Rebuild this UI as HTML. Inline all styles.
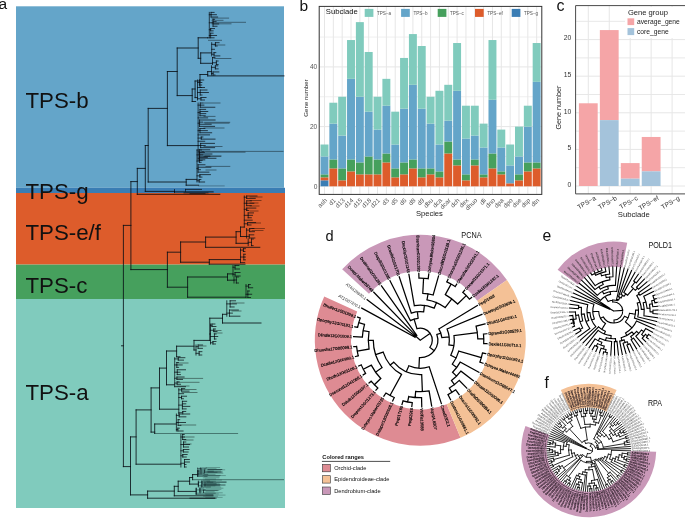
<!DOCTYPE html>
<html><head><meta charset="utf-8"><style>
html,body{margin:0;padding:0;background:#fff;}
svg{display:block;will-change:transform;}
</style></head><body>
<svg width="685" height="518" viewBox="0 0 685 518">
<text x="-1.5" y="9.4" font-size="15.5" font-family="'Liberation Sans', sans-serif" fill="#111">a</text><rect x="16" y="6.3" width="268" height="181.5" fill="#64A5C9"/><rect x="16" y="187.8" width="269" height="5.2" fill="#3A7DB4"/><rect x="16" y="193" width="269" height="71.6" fill="#DD5C2B"/><rect x="16" y="264.6" width="269" height="34.4" fill="#46A05D"/><rect x="16" y="299" width="269" height="209" fill="#80CBBD"/><text x="25.4" y="107.7" font-size="22.3" font-family="'Liberation Sans', sans-serif" fill="#111">TPS-b</text><text x="25.4" y="198.5" font-size="22.3" font-family="'Liberation Sans', sans-serif" fill="#111">TPS-g</text><text x="25.4" y="239.7" font-size="22.3" font-family="'Liberation Sans', sans-serif" fill="#111">TPS-e/f</text><text x="25.4" y="293" font-size="22.3" font-family="'Liberation Sans', sans-serif" fill="#111">TPS-c</text><text x="25.4" y="399.9" font-size="22.3" font-family="'Liberation Sans', sans-serif" fill="#111">TPS-a</text><text x="299.5" y="11" font-size="15.5" font-family="'Liberation Sans', sans-serif" fill="#111">b</text><line x1="319.2" x2="541.8" y1="156.45" y2="156.45" stroke="#EDEDED" stroke-width="0.9"/><line x1="319.2" x2="541.8" y1="96.75" y2="96.75" stroke="#EDEDED" stroke-width="0.9"/><line x1="319.2" x2="541.8" y1="37.05" y2="37.05" stroke="#EDEDED" stroke-width="0.9"/><line x1="319.2" x2="541.8" y1="186.30" y2="186.30" stroke="#E6E6E6" stroke-width="1"/><line x1="319.2" x2="541.8" y1="126.60" y2="126.60" stroke="#E6E6E6" stroke-width="1"/><line x1="319.2" x2="541.8" y1="66.90" y2="66.90" stroke="#E6E6E6" stroke-width="1"/><line x1="324.50" x2="324.50" y1="6.4" y2="194.4" stroke="#E6E6E6" stroke-width="1"/><line x1="333.34" x2="333.34" y1="6.4" y2="194.4" stroke="#E6E6E6" stroke-width="1"/><line x1="342.18" x2="342.18" y1="6.4" y2="194.4" stroke="#E6E6E6" stroke-width="1"/><line x1="351.02" x2="351.02" y1="6.4" y2="194.4" stroke="#E6E6E6" stroke-width="1"/><line x1="359.86" x2="359.86" y1="6.4" y2="194.4" stroke="#E6E6E6" stroke-width="1"/><line x1="368.70" x2="368.70" y1="6.4" y2="194.4" stroke="#E6E6E6" stroke-width="1"/><line x1="377.54" x2="377.54" y1="6.4" y2="194.4" stroke="#E6E6E6" stroke-width="1"/><line x1="386.38" x2="386.38" y1="6.4" y2="194.4" stroke="#E6E6E6" stroke-width="1"/><line x1="395.22" x2="395.22" y1="6.4" y2="194.4" stroke="#E6E6E6" stroke-width="1"/><line x1="404.06" x2="404.06" y1="6.4" y2="194.4" stroke="#E6E6E6" stroke-width="1"/><line x1="412.90" x2="412.90" y1="6.4" y2="194.4" stroke="#E6E6E6" stroke-width="1"/><line x1="421.74" x2="421.74" y1="6.4" y2="194.4" stroke="#E6E6E6" stroke-width="1"/><line x1="430.58" x2="430.58" y1="6.4" y2="194.4" stroke="#E6E6E6" stroke-width="1"/><line x1="439.42" x2="439.42" y1="6.4" y2="194.4" stroke="#E6E6E6" stroke-width="1"/><line x1="448.26" x2="448.26" y1="6.4" y2="194.4" stroke="#E6E6E6" stroke-width="1"/><line x1="457.10" x2="457.10" y1="6.4" y2="194.4" stroke="#E6E6E6" stroke-width="1"/><line x1="465.94" x2="465.94" y1="6.4" y2="194.4" stroke="#E6E6E6" stroke-width="1"/><line x1="474.78" x2="474.78" y1="6.4" y2="194.4" stroke="#E6E6E6" stroke-width="1"/><line x1="483.62" x2="483.62" y1="6.4" y2="194.4" stroke="#E6E6E6" stroke-width="1"/><line x1="492.46" x2="492.46" y1="6.4" y2="194.4" stroke="#E6E6E6" stroke-width="1"/><line x1="501.30" x2="501.30" y1="6.4" y2="194.4" stroke="#E6E6E6" stroke-width="1"/><line x1="510.14" x2="510.14" y1="6.4" y2="194.4" stroke="#E6E6E6" stroke-width="1"/><line x1="518.98" x2="518.98" y1="6.4" y2="194.4" stroke="#E6E6E6" stroke-width="1"/><line x1="527.82" x2="527.82" y1="6.4" y2="194.4" stroke="#E6E6E6" stroke-width="1"/><line x1="536.66" x2="536.66" y1="6.4" y2="194.4" stroke="#E6E6E6" stroke-width="1"/><rect x="320.52" y="180.33" width="7.95" height="5.97" fill="#3A7DB4"/><rect x="320.52" y="177.34" width="7.95" height="2.99" fill="#DD5C2B"/><rect x="320.52" y="174.36" width="7.95" height="2.98" fill="#46A05D"/><rect x="320.52" y="156.45" width="7.95" height="17.91" fill="#64A5C9"/><rect x="320.52" y="144.51" width="7.95" height="11.94" fill="#80CBBD"/><rect x="329.36" y="168.39" width="7.95" height="17.91" fill="#DD5C2B"/><rect x="329.36" y="159.44" width="7.95" height="8.96" fill="#46A05D"/><rect x="329.36" y="123.62" width="7.95" height="35.82" fill="#64A5C9"/><rect x="329.36" y="102.72" width="7.95" height="20.89" fill="#80CBBD"/><rect x="338.20" y="180.33" width="7.95" height="5.97" fill="#DD5C2B"/><rect x="338.20" y="168.39" width="7.95" height="11.94" fill="#46A05D"/><rect x="338.20" y="135.56" width="7.95" height="32.84" fill="#64A5C9"/><rect x="338.20" y="96.75" width="7.95" height="38.80" fill="#80CBBD"/><rect x="347.04" y="171.38" width="7.95" height="14.93" fill="#DD5C2B"/><rect x="347.04" y="159.44" width="7.95" height="11.94" fill="#46A05D"/><rect x="347.04" y="78.84" width="7.95" height="80.59" fill="#64A5C9"/><rect x="347.04" y="40.04" width="7.95" height="38.80" fill="#80CBBD"/><rect x="355.88" y="174.36" width="7.95" height="11.94" fill="#DD5C2B"/><rect x="355.88" y="162.42" width="7.95" height="11.94" fill="#46A05D"/><rect x="355.88" y="96.75" width="7.95" height="65.67" fill="#64A5C9"/><rect x="355.88" y="22.13" width="7.95" height="74.62" fill="#80CBBD"/><rect x="364.72" y="174.36" width="7.95" height="11.94" fill="#DD5C2B"/><rect x="364.72" y="156.45" width="7.95" height="17.91" fill="#46A05D"/><rect x="364.72" y="111.68" width="7.95" height="44.78" fill="#64A5C9"/><rect x="364.72" y="51.98" width="7.95" height="59.70" fill="#80CBBD"/><rect x="373.56" y="174.36" width="7.95" height="11.94" fill="#DD5C2B"/><rect x="373.56" y="159.44" width="7.95" height="14.93" fill="#46A05D"/><rect x="373.56" y="129.59" width="7.95" height="29.85" fill="#64A5C9"/><rect x="373.56" y="96.75" width="7.95" height="32.83" fill="#80CBBD"/><rect x="382.40" y="162.42" width="7.95" height="23.88" fill="#DD5C2B"/><rect x="382.40" y="153.47" width="7.95" height="8.96" fill="#46A05D"/><rect x="382.40" y="105.71" width="7.95" height="47.76" fill="#64A5C9"/><rect x="382.40" y="78.84" width="7.95" height="26.86" fill="#80CBBD"/><rect x="391.25" y="177.34" width="7.95" height="8.96" fill="#DD5C2B"/><rect x="391.25" y="168.39" width="7.95" height="8.95" fill="#46A05D"/><rect x="391.25" y="144.51" width="7.95" height="23.88" fill="#64A5C9"/><rect x="391.25" y="111.68" width="7.95" height="32.84" fill="#80CBBD"/><rect x="400.08" y="174.36" width="7.95" height="11.94" fill="#DD5C2B"/><rect x="400.08" y="162.42" width="7.95" height="11.94" fill="#46A05D"/><rect x="400.08" y="108.69" width="7.95" height="53.73" fill="#64A5C9"/><rect x="400.08" y="57.95" width="7.95" height="50.74" fill="#80CBBD"/><rect x="408.92" y="168.39" width="7.95" height="17.91" fill="#DD5C2B"/><rect x="408.92" y="159.44" width="7.95" height="8.96" fill="#46A05D"/><rect x="408.92" y="84.81" width="7.95" height="74.62" fill="#64A5C9"/><rect x="408.92" y="34.07" width="7.95" height="50.74" fill="#80CBBD"/><rect x="417.76" y="177.34" width="7.95" height="8.96" fill="#DD5C2B"/><rect x="417.76" y="168.39" width="7.95" height="8.95" fill="#46A05D"/><rect x="417.76" y="108.69" width="7.95" height="59.70" fill="#64A5C9"/><rect x="417.76" y="46.01" width="7.95" height="62.68" fill="#80CBBD"/><rect x="426.60" y="174.36" width="7.95" height="11.94" fill="#DD5C2B"/><rect x="426.60" y="168.39" width="7.95" height="5.97" fill="#46A05D"/><rect x="426.60" y="123.62" width="7.95" height="44.78" fill="#64A5C9"/><rect x="426.60" y="96.75" width="7.95" height="26.86" fill="#80CBBD"/><rect x="435.44" y="177.34" width="7.95" height="8.96" fill="#DD5C2B"/><rect x="435.44" y="171.38" width="7.95" height="5.97" fill="#46A05D"/><rect x="435.44" y="144.51" width="7.95" height="26.86" fill="#64A5C9"/><rect x="435.44" y="90.78" width="7.95" height="53.73" fill="#80CBBD"/><rect x="444.28" y="153.47" width="7.95" height="32.84" fill="#DD5C2B"/><rect x="444.28" y="141.53" width="7.95" height="11.94" fill="#46A05D"/><rect x="444.28" y="120.63" width="7.95" height="20.89" fill="#64A5C9"/><rect x="444.28" y="84.81" width="7.95" height="35.82" fill="#80CBBD"/><rect x="453.12" y="165.41" width="7.95" height="20.90" fill="#DD5C2B"/><rect x="453.12" y="159.44" width="7.95" height="5.97" fill="#46A05D"/><rect x="453.12" y="90.78" width="7.95" height="68.65" fill="#64A5C9"/><rect x="453.12" y="43.02" width="7.95" height="47.76" fill="#80CBBD"/><rect x="461.96" y="180.33" width="7.95" height="5.97" fill="#DD5C2B"/><rect x="461.96" y="174.36" width="7.95" height="5.97" fill="#46A05D"/><rect x="461.96" y="138.54" width="7.95" height="35.82" fill="#64A5C9"/><rect x="461.96" y="105.71" width="7.95" height="32.84" fill="#80CBBD"/><rect x="470.80" y="165.41" width="7.95" height="20.90" fill="#DD5C2B"/><rect x="470.80" y="159.44" width="7.95" height="5.97" fill="#46A05D"/><rect x="470.80" y="135.56" width="7.95" height="23.88" fill="#64A5C9"/><rect x="470.80" y="105.71" width="7.95" height="29.85" fill="#80CBBD"/><rect x="479.64" y="177.34" width="7.95" height="8.96" fill="#DD5C2B"/><rect x="479.64" y="174.36" width="7.95" height="2.98" fill="#46A05D"/><rect x="479.64" y="147.50" width="7.95" height="26.87" fill="#64A5C9"/><rect x="479.64" y="123.62" width="7.95" height="23.88" fill="#80CBBD"/><rect x="488.49" y="168.39" width="7.95" height="17.91" fill="#DD5C2B"/><rect x="488.49" y="153.47" width="7.95" height="14.93" fill="#46A05D"/><rect x="488.49" y="99.74" width="7.95" height="53.73" fill="#64A5C9"/><rect x="488.49" y="40.04" width="7.95" height="59.70" fill="#80CBBD"/><rect x="497.32" y="174.36" width="7.95" height="11.94" fill="#DD5C2B"/><rect x="497.32" y="171.38" width="7.95" height="2.99" fill="#46A05D"/><rect x="497.32" y="147.50" width="7.95" height="23.88" fill="#64A5C9"/><rect x="497.32" y="129.59" width="7.95" height="17.91" fill="#80CBBD"/><rect x="506.16" y="183.31" width="7.95" height="2.99" fill="#DD5C2B"/><rect x="506.16" y="165.41" width="7.95" height="17.91" fill="#64A5C9"/><rect x="506.16" y="144.51" width="7.95" height="20.89" fill="#80CBBD"/><rect x="515.00" y="180.33" width="7.95" height="5.97" fill="#DD5C2B"/><rect x="515.00" y="174.36" width="7.95" height="5.97" fill="#46A05D"/><rect x="515.00" y="156.45" width="7.95" height="17.91" fill="#64A5C9"/><rect x="515.00" y="126.60" width="7.95" height="29.85" fill="#80CBBD"/><rect x="523.84" y="171.38" width="7.95" height="14.93" fill="#DD5C2B"/><rect x="523.84" y="162.42" width="7.95" height="8.95" fill="#46A05D"/><rect x="523.84" y="126.60" width="7.95" height="35.82" fill="#64A5C9"/><rect x="523.84" y="105.71" width="7.95" height="20.90" fill="#80CBBD"/><rect x="532.68" y="168.39" width="7.95" height="17.91" fill="#DD5C2B"/><rect x="532.68" y="162.42" width="7.95" height="5.97" fill="#46A05D"/><rect x="532.68" y="81.83" width="7.95" height="80.59" fill="#64A5C9"/><rect x="532.68" y="43.02" width="7.95" height="38.81" fill="#80CBBD"/><rect x="319.2" y="6.4" width="222.6" height="188.0" fill="none" stroke="#333" stroke-width="1"/><text x="325.8" y="14.3" font-size="7.7" font-family="'Liberation Sans', sans-serif" fill="#111">Subclade</text><rect x="364.7" y="8.9" width="8.7" height="8" fill="#80CBBD"/><text x="377.0" y="14.6" font-size="4.6" font-family="'Liberation Sans', sans-serif" fill="#555">TPS−a</text><rect x="401.1" y="8.9" width="8.7" height="8" fill="#64A5C9"/><text x="413.40000000000003" y="14.6" font-size="4.6" font-family="'Liberation Sans', sans-serif" fill="#555">TPS−b</text><rect x="437.7" y="8.9" width="8.7" height="8" fill="#46A05D"/><text x="450.0" y="14.6" font-size="4.6" font-family="'Liberation Sans', sans-serif" fill="#555">TPS−c</text><rect x="475" y="8.9" width="8.7" height="8" fill="#DD5C2B"/><text x="487.3" y="14.6" font-size="4.6" font-family="'Liberation Sans', sans-serif" fill="#555">TPS−ef</text><rect x="511.7" y="8.9" width="8.7" height="8" fill="#3A7DB4"/><text x="524.0" y="14.6" font-size="4.6" font-family="'Liberation Sans', sans-serif" fill="#555">TPS−g</text><text x="317.3" y="188.60" font-size="6.6" font-family="'Liberation Sans', sans-serif" fill="#555" text-anchor="end">0</text><text x="317.3" y="128.90" font-size="6.6" font-family="'Liberation Sans', sans-serif" fill="#555" text-anchor="end">20</text><text x="317.3" y="69.20" font-size="6.6" font-family="'Liberation Sans', sans-serif" fill="#555" text-anchor="end">40</text><text transform="translate(307.6,98) rotate(-90)" font-size="6.1" font-family="'Liberation Sans', sans-serif" fill="#222" text-anchor="middle">Gene number</text><text transform="translate(324.10,197.4) rotate(-45)" font-size="6.3" font-family="'Liberation Sans', sans-serif" fill="#555" text-anchor="end" dominant-baseline="hanging">ash</text><text transform="translate(332.94,197.4) rotate(-45)" font-size="6.3" font-family="'Liberation Sans', sans-serif" fill="#555" text-anchor="end" dominant-baseline="hanging">d1</text><text transform="translate(341.78,197.4) rotate(-45)" font-size="6.3" font-family="'Liberation Sans', sans-serif" fill="#555" text-anchor="end" dominant-baseline="hanging">d13</text><text transform="translate(350.62,197.4) rotate(-45)" font-size="6.3" font-family="'Liberation Sans', sans-serif" fill="#555" text-anchor="end" dominant-baseline="hanging">d14</text><text transform="translate(359.46,197.4) rotate(-45)" font-size="6.3" font-family="'Liberation Sans', sans-serif" fill="#555" text-anchor="end" dominant-baseline="hanging">d15</text><text transform="translate(368.30,197.4) rotate(-45)" font-size="6.3" font-family="'Liberation Sans', sans-serif" fill="#555" text-anchor="end" dominant-baseline="hanging">d18</text><text transform="translate(377.14,197.4) rotate(-45)" font-size="6.3" font-family="'Liberation Sans', sans-serif" fill="#555" text-anchor="end" dominant-baseline="hanging">d21</text><text transform="translate(385.98,197.4) rotate(-45)" font-size="6.3" font-family="'Liberation Sans', sans-serif" fill="#555" text-anchor="end" dominant-baseline="hanging">d3</text><text transform="translate(394.82,197.4) rotate(-45)" font-size="6.3" font-family="'Liberation Sans', sans-serif" fill="#555" text-anchor="end" dominant-baseline="hanging">d5</text><text transform="translate(403.66,197.4) rotate(-45)" font-size="6.3" font-family="'Liberation Sans', sans-serif" fill="#555" text-anchor="end" dominant-baseline="hanging">d6</text><text transform="translate(412.50,197.4) rotate(-45)" font-size="6.3" font-family="'Liberation Sans', sans-serif" fill="#555" text-anchor="end" dominant-baseline="hanging">d8</text><text transform="translate(421.34,197.4) rotate(-45)" font-size="6.3" font-family="'Liberation Sans', sans-serif" fill="#555" text-anchor="end" dominant-baseline="hanging">d9</text><text transform="translate(430.18,197.4) rotate(-45)" font-size="6.3" font-family="'Liberation Sans', sans-serif" fill="#555" text-anchor="end" dominant-baseline="hanging">dbu</text><text transform="translate(439.02,197.4) rotate(-45)" font-size="6.3" font-family="'Liberation Sans', sans-serif" fill="#555" text-anchor="end" dominant-baseline="hanging">dca</text><text transform="translate(447.86,197.4) rotate(-45)" font-size="6.3" font-family="'Liberation Sans', sans-serif" fill="#555" text-anchor="end" dominant-baseline="hanging">dcar</text><text transform="translate(456.70,197.4) rotate(-45)" font-size="6.3" font-family="'Liberation Sans', sans-serif" fill="#555" text-anchor="end" dominant-baseline="hanging">dch</text><text transform="translate(465.54,197.4) rotate(-45)" font-size="6.3" font-family="'Liberation Sans', sans-serif" fill="#555" text-anchor="end" dominant-baseline="hanging">dex</text><text transform="translate(474.38,197.4) rotate(-45)" font-size="6.3" font-family="'Liberation Sans', sans-serif" fill="#555" text-anchor="end" dominant-baseline="hanging">dhuo</text><text transform="translate(483.22,197.4) rotate(-45)" font-size="6.3" font-family="'Liberation Sans', sans-serif" fill="#555" text-anchor="end" dominant-baseline="hanging">dli</text><text transform="translate(492.06,197.4) rotate(-45)" font-size="6.3" font-family="'Liberation Sans', sans-serif" fill="#555" text-anchor="end" dominant-baseline="hanging">dno</text><text transform="translate(500.90,197.4) rotate(-45)" font-size="6.3" font-family="'Liberation Sans', sans-serif" fill="#555" text-anchor="end" dominant-baseline="hanging">dpa</text><text transform="translate(509.74,197.4) rotate(-45)" font-size="6.3" font-family="'Liberation Sans', sans-serif" fill="#555" text-anchor="end" dominant-baseline="hanging">dpo</text><text transform="translate(518.58,197.4) rotate(-45)" font-size="6.3" font-family="'Liberation Sans', sans-serif" fill="#555" text-anchor="end" dominant-baseline="hanging">dse</text><text transform="translate(527.42,197.4) rotate(-45)" font-size="6.3" font-family="'Liberation Sans', sans-serif" fill="#555" text-anchor="end" dominant-baseline="hanging">dsp</text><text transform="translate(536.26,197.4) rotate(-45)" font-size="6.3" font-family="'Liberation Sans', sans-serif" fill="#555" text-anchor="end" dominant-baseline="hanging">dtn</text><text x="429.4" y="216.4" font-size="7.6" font-family="'Liberation Sans', sans-serif" fill="#222" text-anchor="middle">Species</text><text x="556.5" y="10.9" font-size="16" font-family="'Liberation Sans', sans-serif" fill="#111">c</text><line x1="575.6" x2="690" y1="167.70" y2="167.70" stroke="#E8E8E8" stroke-width="1"/><line x1="575.6" x2="690" y1="131.10" y2="131.10" stroke="#E8E8E8" stroke-width="1"/><line x1="575.6" x2="690" y1="94.50" y2="94.50" stroke="#E8E8E8" stroke-width="1"/><line x1="575.6" x2="690" y1="57.90" y2="57.90" stroke="#E8E8E8" stroke-width="1"/><line x1="575.6" x2="690" y1="21.30" y2="21.30" stroke="#E8E8E8" stroke-width="1"/><line x1="575.6" x2="690" y1="186.00" y2="186.00" stroke="#E6E6E6" stroke-width="1"/><line x1="575.6" x2="690" y1="149.40" y2="149.40" stroke="#E6E6E6" stroke-width="1"/><line x1="575.6" x2="690" y1="112.80" y2="112.80" stroke="#E6E6E6" stroke-width="1"/><line x1="575.6" x2="690" y1="76.20" y2="76.20" stroke="#E6E6E6" stroke-width="1"/><line x1="575.6" x2="690" y1="39.60" y2="39.60" stroke="#E6E6E6" stroke-width="1"/><line x1="588.30" x2="588.30" y1="5.6" y2="193.9" stroke="#E6E6E6" stroke-width="1"/><line x1="609.25" x2="609.25" y1="5.6" y2="193.9" stroke="#E6E6E6" stroke-width="1"/><line x1="630.20" x2="630.20" y1="5.6" y2="193.9" stroke="#E6E6E6" stroke-width="1"/><line x1="651.15" x2="651.15" y1="5.6" y2="193.9" stroke="#E6E6E6" stroke-width="1"/><line x1="672.10" x2="672.10" y1="5.6" y2="193.9" stroke="#E6E6E6" stroke-width="1"/><rect x="578.90" y="103.28" width="18.8" height="82.72" fill="#F5A5A7"/><rect x="599.85" y="30.08" width="18.8" height="90.04" fill="#F5A5A7"/><rect x="599.85" y="120.12" width="18.8" height="65.88" fill="#A4C3DB"/><rect x="620.80" y="163.09" width="18.8" height="15.59" fill="#F5A5A7"/><rect x="620.80" y="178.68" width="18.8" height="7.32" fill="#A4C3DB"/><rect x="641.75" y="136.96" width="18.8" height="34.40" fill="#F5A5A7"/><rect x="641.75" y="171.36" width="18.8" height="14.64" fill="#A4C3DB"/><path d="M690,5.6 H575.6 V193.9 H690" fill="none" stroke="#4a4a4a" stroke-width="1"/><rect x="625" y="7" width="60" height="31" fill="#fff"/><text x="627.9" y="14.8" font-size="7.6" font-family="'Liberation Sans', sans-serif" fill="#222">Gene group</text><rect x="627.5" y="18.3" width="6.7" height="6.8" fill="#F5A5A7"/><rect x="627.5" y="28.1" width="6.7" height="7" fill="#A4C3DB"/><text x="637" y="24" font-size="6.7" font-family="'Liberation Sans', sans-serif" fill="#222">average_gene</text><text x="637" y="33.8" font-size="6.7" font-family="'Liberation Sans', sans-serif" fill="#222">core_gene</text><text x="571.3" y="186.80" font-size="6.8" font-family="'Liberation Sans', sans-serif" fill="#333" text-anchor="end">0</text><text x="571.3" y="150.20" font-size="6.8" font-family="'Liberation Sans', sans-serif" fill="#333" text-anchor="end">5</text><text x="571.3" y="113.60" font-size="6.8" font-family="'Liberation Sans', sans-serif" fill="#333" text-anchor="end">10</text><text x="571.3" y="77.00" font-size="6.8" font-family="'Liberation Sans', sans-serif" fill="#333" text-anchor="end">15</text><text x="571.3" y="40.40" font-size="6.8" font-family="'Liberation Sans', sans-serif" fill="#333" text-anchor="end">20</text><text transform="translate(561.3,107.5) rotate(-90)" font-size="7.2" font-family="'Liberation Sans', sans-serif" fill="#222" text-anchor="middle">Gene number</text><text transform="translate(594.10,195.2) rotate(-30)" font-size="6.6" font-family="'Liberation Sans', sans-serif" fill="#333" text-anchor="end" dominant-baseline="hanging">TPS−a</text><text transform="translate(615.05,195.2) rotate(-30)" font-size="6.6" font-family="'Liberation Sans', sans-serif" fill="#333" text-anchor="end" dominant-baseline="hanging">TPS−b</text><text transform="translate(636.00,195.2) rotate(-30)" font-size="6.6" font-family="'Liberation Sans', sans-serif" fill="#333" text-anchor="end" dominant-baseline="hanging">TPS−c</text><text transform="translate(656.95,195.2) rotate(-30)" font-size="6.6" font-family="'Liberation Sans', sans-serif" fill="#333" text-anchor="end" dominant-baseline="hanging">TPS−ef</text><text transform="translate(677.90,195.2) rotate(-30)" font-size="6.6" font-family="'Liberation Sans', sans-serif" fill="#333" text-anchor="end" dominant-baseline="hanging">TPS−g</text><text x="633.8" y="217.2" font-size="7.7" font-family="'Liberation Sans', sans-serif" fill="#222" text-anchor="middle">Subclade</text>
<path d="M460.50,437.74A105.5,105.5 0 0 1 324.22,296.62L357.19,311.57A69.3,69.3 0 0 0 446.71,404.27Z" fill="#DE8B93"/><path d="M342.15,269.33A105.5,105.5 0 0 1 506.93,279.99L477.21,300.65A69.3,69.3 0 0 0 368.96,293.65Z" fill="#C998B8"/><path d="M506.93,279.99A105.5,105.5 0 0 1 460.50,437.74L446.71,404.27A69.3,69.3 0 0 0 477.21,300.65Z" fill="#F4C196"/><path d="M415.04,337.31L361.73,308.08M415.53,336.56L367.17,299.71M416.12,335.89L373.80,292.24M416.81,335.32L381.47,285.85M415.04,337.31A6.00,6.00 0 0 1 416.81,335.32M420.30,340.20L415.81,336.22M410.32,320.59L390.00,280.67M411.30,313.16L399.21,276.82M414.33,305.71L408.90,274.38M418.94,278.21L418.83,273.42M428.19,278.70L428.80,273.94M418.94,278.21A62.00,62.00 0 0 1 428.19,278.70M422.78,293.27L423.58,278.29M433.16,294.99L438.58,275.95M422.78,293.27A47.00,47.00 0 0 1 433.16,294.99M427.04,299.76L428.02,293.84M446.80,281.94L447.96,279.39M455.18,286.54L456.71,284.19M446.80,281.94A64.00,64.00 0 0 1 455.18,286.54M445.31,294.61L451.08,284.09M462.79,292.34L464.65,290.25M469.45,299.21L471.60,297.42M462.79,292.34A64.00,64.00 0 0 1 469.45,299.21M457.63,304.00L466.25,295.65M445.31,294.61A52.00,52.00 0 0 1 457.63,304.00M445.15,307.59L451.82,298.84M427.04,299.76A41.00,41.00 0 0 1 445.15,307.59M434.19,308.08L436.57,302.57M414.33,305.71A35.00,35.00 0 0 1 434.19,308.08M423.66,311.90L424.43,305.44M411.30,313.16A28.50,28.50 0 0 1 423.66,311.90M418.07,318.31L417.41,311.85M410.32,320.59A22.00,22.00 0 0 1 418.07,318.31M416.91,328.69L414.09,319.09M438.85,328.94L477.40,305.54M447.06,329.02L481.93,314.44M476.06,326.18L485.08,323.91M483.50,334.07L486.79,333.75M483.71,343.55L487.01,343.73M483.50,334.07A63.50,63.50 0 0 1 483.71,343.55M477.79,338.94L483.78,338.81M476.06,326.18A57.50,57.50 0 0 1 477.79,338.94M453.99,335.65L477.28,332.51M482.50,352.97L485.74,353.63M479.91,362.10L483.00,363.23M482.50,352.97A63.50,63.50 0 0 1 479.91,362.10M458.77,351.15L481.37,357.58M460.19,362.08L478.87,372.32M460.86,371.12L473.43,380.69M459.28,380.41L466.80,388.16M455.76,389.83L459.13,394.55M447.97,394.57L450.60,399.73M455.76,389.83A61.00,61.00 0 0 1 447.97,394.57M449.36,388.07L451.95,392.35M459.28,380.41A56.00,56.00 0 0 1 449.36,388.07M451.48,380.56L454.53,384.52M460.86,371.12A51.00,51.00 0 0 1 451.48,380.56M452.58,372.27L456.48,376.15M460.19,362.08A45.50,45.50 0 0 1 452.58,372.27M452.34,364.15L456.74,367.44M458.77,351.15A40.00,40.00 0 0 1 452.34,364.15M450.77,355.28L456.15,357.94M453.99,335.65A34.00,34.00 0 0 1 450.77,355.28M448.92,344.90L453.85,345.71M447.06,329.02A29.00,29.00 0 0 1 448.92,344.90M441.85,337.68L449.10,336.83M438.85,328.94A21.70,21.70 0 0 1 441.85,337.68M436.85,334.51L440.82,333.15M429.14,366.77L441.39,403.58M429.09,390.94L431.70,406.02M421.56,397.69L421.77,406.98M412.28,402.69L411.80,406.46M403.06,400.79L402.02,404.45M412.28,402.69A63.00,63.00 0 0 1 403.06,400.79M408.74,396.53L407.63,401.91M421.56,397.69A57.50,57.50 0 0 1 408.74,396.53M415.66,391.49L415.12,397.47M429.09,390.94A51.50,51.50 0 0 1 415.66,391.49M421.70,374.67L422.39,391.66M394.22,397.55L392.64,401.01M385.96,393.02L383.89,396.21M394.22,397.55A63.00,63.00 0 0 1 385.96,393.02M401.55,374.39L390.00,395.44M360.23,318.13L357.60,317.17M357.61,327.33L354.86,326.77M357.61,327.33A64.00,64.00 0 0 1 360.23,318.13M364.52,324.32L358.74,322.68M362.38,337.14L353.59,336.67M362.38,337.14A58.00,58.00 0 0 1 364.52,324.32M369.01,331.66L363.09,330.67M356.60,346.38L353.81,346.65M358.23,355.81L355.52,356.49M358.23,355.81A64.00,64.00 0 0 1 356.60,346.38M369.06,349.08L357.24,351.12M369.06,349.08A52.00,52.00 0 0 1 369.01,331.66M373.30,340.35L368.30,340.37M361.25,364.88L358.67,365.96M365.59,373.41L363.20,374.86M365.59,373.41A64.00,64.00 0 0 1 361.25,364.88M371.28,365.15L363.26,369.23M371.15,381.19L369.00,382.98M377.81,388.06L375.95,390.15M377.81,388.06A64.00,64.00 0 0 1 371.15,381.19M380.81,378.49L374.35,384.75M380.81,378.49A55.00,55.00 0 0 1 371.28,365.15M382.06,367.52L375.55,372.17M382.06,367.52A47.00,47.00 0 0 1 373.30,340.35M383.18,352.16L375.57,354.62M401.55,374.39A39.00,39.00 0 0 1 383.18,352.16M393.70,362.17L390.23,365.04M421.70,374.67A34.50,34.50 0 0 1 393.70,362.17M408.89,365.77L406.24,371.70M429.14,366.77A28.00,28.00 0 0 1 408.89,365.77M419.44,357.68L418.92,368.17M436.85,334.51A17.50,17.50 0 0 1 419.44,357.68M429.89,347.41L434.29,350.71M416.91,328.69A12.00,12.00 0 0 1 429.89,347.41M420.30,340.20L430.16,333.36" fill="none" stroke="#000" stroke-width="1.25" stroke-linecap="square"/><text transform="translate(441.86,405.01) rotate(71.60)" dominant-baseline="central" font-size="4.0" font-family="'Liberation Sans', sans-serif" fill="#000" stroke="#000" stroke-width="0.15">Cmod2302.1</text><text transform="translate(431.96,407.50) rotate(80.17)" dominant-baseline="central" font-size="4.0" font-family="'Liberation Sans', sans-serif" fill="#000" stroke="#000" stroke-width="0.15">Vopt24.8307</text><text transform="translate(421.80,408.48) rotate(88.74)" dominant-baseline="central" font-size="4.0" font-family="'Liberation Sans', sans-serif" fill="#000" stroke="#000" stroke-width="0.15">Wolfia13688</text><text transform="translate(411.60,407.94) rotate(-82.69)" text-anchor="end" dominant-baseline="central" font-size="4.0" font-family="'Liberation Sans', sans-serif" fill="#000" stroke="#000" stroke-width="0.15">Peq02918</text><text transform="translate(401.60,405.89) rotate(-74.11)" text-anchor="end" dominant-baseline="central" font-size="4.0" font-family="'Liberation Sans', sans-serif" fill="#000" stroke="#000" stroke-width="0.15">Peq017165</text><text transform="translate(392.02,402.37) rotate(-65.54)" text-anchor="end" dominant-baseline="central" font-size="4.0" font-family="'Liberation Sans', sans-serif" fill="#000" stroke="#000" stroke-width="0.15">Dlstapel12G00568.1</text><text transform="translate(383.07,397.46) rotate(-56.97)" text-anchor="end" dominant-baseline="central" font-size="4.0" font-family="'Liberation Sans', sans-serif" fill="#000" stroke="#000" stroke-width="0.15">Dchryso.Maker03725</text><text transform="translate(374.95,391.27) rotate(-48.40)" text-anchor="end" dominant-baseline="central" font-size="4.0" font-family="'Liberation Sans', sans-serif" fill="#000" stroke="#000" stroke-width="0.15">Drepen12G01273.1</text><text transform="translate(367.85,383.95) rotate(-39.83)" text-anchor="end" dominant-baseline="central" font-size="4.0" font-family="'Liberation Sans', sans-serif" fill="#000" stroke="#000" stroke-width="0.15">Dstuls12G00107.1</text><text transform="translate(361.91,375.64) rotate(-31.26)" text-anchor="end" dominant-baseline="central" font-size="4.0" font-family="'Liberation Sans', sans-serif" fill="#000" stroke="#000" stroke-width="0.15">Dsecund12G41086.1</text><text transform="translate(357.28,366.54) rotate(-22.69)" text-anchor="end" dominant-baseline="central" font-size="4.0" font-family="'Liberation Sans', sans-serif" fill="#000" stroke="#000" stroke-width="0.15">Dhuifn13G01106.1</text><text transform="translate(354.06,356.86) rotate(-14.11)" text-anchor="end" dominant-baseline="central" font-size="4.0" font-family="'Liberation Sans', sans-serif" fill="#000" stroke="#000" stroke-width="0.15">Dcatile12G00990.1</text><text transform="translate(352.32,346.80) rotate(-5.54)" text-anchor="end" dominant-baseline="central" font-size="4.0" font-family="'Liberation Sans', sans-serif" fill="#000" stroke="#000" stroke-width="0.15">Dhuosha17G00098.1</text><text transform="translate(352.10,336.59) rotate(3.03)" text-anchor="end" dominant-baseline="central" font-size="4.0" font-family="'Liberation Sans', sans-serif" fill="#000" stroke="#000" stroke-width="0.15">Dlindle12G01009.1</text><text transform="translate(353.40,326.47) rotate(11.60)" text-anchor="end" dominant-baseline="central" font-size="4.0" font-family="'Liberation Sans', sans-serif" fill="#000" stroke="#000" stroke-width="0.15">Dporphy12G01181.1</text><text transform="translate(356.19,316.65) rotate(20.17)" text-anchor="end" dominant-baseline="central" font-size="4.0" font-family="'Liberation Sans', sans-serif" fill="#000" stroke="#000" stroke-width="0.15">Dhuifer12G01998.1</text><text transform="translate(372.76,291.16) rotate(45.89)" text-anchor="end" dominant-baseline="central" font-size="4.0" font-family="'Liberation Sans', sans-serif" fill="#000" stroke="#000" stroke-width="0.15">Dcrepi.Maker03748</text><text transform="translate(380.60,284.63) rotate(54.46)" text-anchor="end" dominant-baseline="central" font-size="4.0" font-family="'Liberation Sans', sans-serif" fill="#000" stroke="#000" stroke-width="0.15">Dcatena02G01285</text><text transform="translate(389.32,279.33) rotate(63.03)" text-anchor="end" dominant-baseline="central" font-size="4.0" font-family="'Liberation Sans', sans-serif" fill="#000" stroke="#000" stroke-width="0.15">Dcapill02G01385</text><text transform="translate(398.74,275.39) rotate(71.60)" text-anchor="end" dominant-baseline="central" font-size="4.0" font-family="'Liberation Sans', sans-serif" fill="#000" stroke="#000" stroke-width="0.15">Dcaulis02G01706</text><text transform="translate(408.64,272.90) rotate(80.17)" text-anchor="end" dominant-baseline="central" font-size="4.0" font-family="'Liberation Sans', sans-serif" fill="#000" stroke="#000" stroke-width="0.15">Dnobile05G01245</text><text transform="translate(418.80,271.92) rotate(88.74)" text-anchor="end" dominant-baseline="central" font-size="4.0" font-family="'Liberation Sans', sans-serif" fill="#000" stroke="#000" stroke-width="0.15">Dsenicum02G01282</text><text transform="translate(429.00,272.46) rotate(277.31)" dominant-baseline="central" font-size="4.0" font-family="'Liberation Sans', sans-serif" fill="#000" stroke="#000" stroke-width="0.15">Dchryso.Maker98854</text><text transform="translate(439.00,274.51) rotate(285.89)" dominant-baseline="central" font-size="4.0" font-family="'Liberation Sans', sans-serif" fill="#000" stroke="#000" stroke-width="0.15">Dmonilif15G01128.1</text><text transform="translate(448.58,278.03) rotate(294.46)" dominant-baseline="central" font-size="4.0" font-family="'Liberation Sans', sans-serif" fill="#000" stroke="#000" stroke-width="0.15">Dhuosha16G01295.1</text><text transform="translate(457.53,282.94) rotate(303.03)" dominant-baseline="central" font-size="4.0" font-family="'Liberation Sans', sans-serif" fill="#000" stroke="#000" stroke-width="0.15">Dhuosha16G02241.1</text><text transform="translate(465.65,289.13) rotate(311.60)" dominant-baseline="central" font-size="4.0" font-family="'Liberation Sans', sans-serif" fill="#000" stroke="#000" stroke-width="0.15">Dnovel15G01571.1</text><text transform="translate(472.75,296.45) rotate(320.17)" dominant-baseline="central" font-size="4.0" font-family="'Liberation Sans', sans-serif" fill="#000" stroke="#000" stroke-width="0.15">Dzelia15G01287.1</text><text transform="translate(478.69,304.76) rotate(328.74)" dominant-baseline="central" font-size="4.0" font-family="'Liberation Sans', sans-serif" fill="#000" stroke="#000" stroke-width="0.15">Peq01498</text><text transform="translate(483.32,313.86) rotate(337.31)" dominant-baseline="central" font-size="4.0" font-family="'Liberation Sans', sans-serif" fill="#000" stroke="#000" stroke-width="0.15">Dcarinyi1G00606.1</text><text transform="translate(486.54,323.54) rotate(345.89)" dominant-baseline="central" font-size="4.0" font-family="'Liberation Sans', sans-serif" fill="#000" stroke="#000" stroke-width="0.15">Dfruit11G00260.1</text><text transform="translate(488.28,333.60) rotate(354.46)" dominant-baseline="central" font-size="4.0" font-family="'Liberation Sans', sans-serif" fill="#000" stroke="#000" stroke-width="0.15">Dgrandi1G00529.1</text><text transform="translate(488.50,343.81) rotate(3.03)" dominant-baseline="central" font-size="4.0" font-family="'Liberation Sans', sans-serif" fill="#000" stroke="#000" stroke-width="0.15">Dexile11G00710.1</text><text transform="translate(487.20,353.93) rotate(11.60)" dominant-baseline="central" font-size="4.0" font-family="'Liberation Sans', sans-serif" fill="#000" stroke="#000" stroke-width="0.15">Dporphy11G00874.1</text><text transform="translate(484.41,363.75) rotate(20.17)" dominant-baseline="central" font-size="4.0" font-family="'Liberation Sans', sans-serif" fill="#000" stroke="#000" stroke-width="0.15">Dchryso.Maker44482</text><text transform="translate(480.18,373.04) rotate(28.74)" dominant-baseline="central" font-size="4.0" font-family="'Liberation Sans', sans-serif" fill="#000" stroke="#000" stroke-width="0.15">Dsenicum11G00547.1</text><text transform="translate(474.62,381.60) rotate(37.31)" dominant-baseline="central" font-size="4.0" font-family="'Liberation Sans', sans-serif" fill="#000" stroke="#000" stroke-width="0.15">Dbicam11G02096.1</text><text transform="translate(467.84,389.24) rotate(45.89)" dominant-baseline="central" font-size="4.0" font-family="'Liberation Sans', sans-serif" fill="#000" stroke="#000" stroke-width="0.15">Dhalfa06G00854.1</text><text transform="translate(460.00,395.77) rotate(54.46)" dominant-baseline="central" font-size="4.0" font-family="'Liberation Sans', sans-serif" fill="#000" stroke="#000" stroke-width="0.15">Dcaulis11G00052.1</text><text transform="translate(451.28,401.07) rotate(63.03)" dominant-baseline="central" font-size="4.0" font-family="'Liberation Sans', sans-serif" fill="#000" stroke="#000" stroke-width="0.15">Dcatena11G00661.1</text><text transform="translate(360.42,307.36) rotate(28.74)" text-anchor="end" dominant-baseline="central" font-size="4.0" font-family="'Liberation Sans', sans-serif" fill="#444" stroke="#444" stroke-width="0.05">AT1G07370.1</text><text transform="translate(365.98,298.80) rotate(37.31)" text-anchor="end" dominant-baseline="central" font-size="4.0" font-family="'Liberation Sans', sans-serif" fill="#444" stroke="#444" stroke-width="0.05">AT4G29830.1</text><text x="325.6" y="241.1" font-size="14.6" font-family="'Liberation Sans', sans-serif" fill="#111">d</text><text x="461.3" y="237.6" font-size="8.6" textLength="20.3" lengthAdjust="spacingAndGlyphs" font-family="'Liberation Sans', sans-serif" fill="#111">PCNA</text><text x="322.3" y="458.9" font-size="5.7" font-weight="bold" font-family="'Liberation Sans', sans-serif" fill="#111">Colored ranges</text><line x1="321.9" x2="390.2" y1="461.4" y2="461.4" stroke="#222" stroke-width="0.8"/><rect x="322.5" y="464.4" width="7.8" height="7.4" fill="#DE8B93" stroke="#333" stroke-width="0.6"/><text x="334.2" y="470.1" font-size="5.7" font-family="'Liberation Sans', sans-serif" fill="#111">Orchid-clade</text><rect x="322.5" y="475.7" width="7.8" height="7.4" fill="#F4C196" stroke="#333" stroke-width="0.6"/><text x="334.2" y="481.4" font-size="5.7" font-family="'Liberation Sans', sans-serif" fill="#111">Epidendroideae-clade</text><rect x="322.5" y="487.0" width="7.8" height="7.4" fill="#C998B8" stroke="#333" stroke-width="0.6"/><text x="334.2" y="492.7" font-size="5.7" font-family="'Liberation Sans', sans-serif" fill="#111">Dendrobium-clade</text><path d="M557.61,269.80A69.6,69.6 0 0 1 627.22,242.73L622.30,267.54A44.3,44.3 0 0 0 578.00,284.77Z" fill="#C998B8"/><path d="M609.58,309.18L573.17,293.12M609.76,308.83L574.88,289.66M609.96,308.50L576.89,286.36M609.58,309.18A4.50,4.50 0 0 1 609.96,308.50M613.70,311.00L609.76,308.83M600.53,300.41L579.18,283.24M597.32,295.29L581.73,280.34M594.93,289.56L584.52,277.67M595.15,285.66L587.54,275.25M591.94,275.07L590.75,273.11M595.16,273.32L594.14,271.25M598.51,271.84L597.68,269.70M601.98,270.67L601.34,268.46M598.51,271.84A42.00,42.00 0 0 1 601.98,270.67M600.23,271.22L600.23,271.22M595.16,273.32A42.00,42.00 0 0 1 600.23,271.22M597.66,272.18L597.66,272.18M591.94,275.07A42.00,42.00 0 0 1 597.66,272.18M595.60,275.22L594.75,273.52M605.91,271.66L605.10,267.54M595.60,275.22A40.10,40.10 0 0 1 605.91,271.66M601.58,275.83L600.64,273.09M609.68,274.02L608.92,266.96M601.58,275.83A37.20,37.20 0 0 1 609.68,274.02M606.21,277.53L605.58,274.70M612.98,276.71L612.77,266.71M606.21,277.53A34.30,34.30 0 0 1 612.98,276.71M609.93,279.83L609.58,276.95M595.15,285.66A31.40,31.40 0 0 1 609.93,279.83M603.23,284.49L602.17,281.80M594.93,289.56A28.50,28.50 0 0 1 603.23,284.49M600.37,289.14L598.86,286.67M615.40,285.46L616.64,266.80M600.37,289.14A25.60,25.60 0 0 1 615.40,285.46M608.29,288.95L607.60,286.14M597.32,295.29A22.70,22.70 0 0 1 608.29,288.95M603.80,293.85L602.35,291.34M616.73,291.43L620.48,267.22M603.80,293.85A19.80,19.80 0 0 1 616.73,291.43M610.59,294.39L610.06,291.54M600.53,300.41A16.90,16.90 0 0 1 610.59,294.39M606.51,298.99L605.02,296.50M608.05,301.56L606.51,298.99M616.56,299.35L624.27,267.98M618.53,296.80L627.98,269.06M620.96,294.53L631.58,270.47M623.82,292.60L635.04,272.18M633.73,281.08L638.34,274.19M636.26,282.94L641.46,276.48M633.73,281.08A36.00,36.00 0 0 1 636.26,282.94M631.46,286.82L635.01,281.99M636.54,287.18L644.36,279.03M638.53,289.26L647.03,281.82M636.54,287.18A33.00,33.00 0 0 1 638.53,289.26M635.39,290.27L637.56,288.20M631.46,286.82A30.00,30.00 0 0 1 635.39,290.27M627.56,295.22L633.50,288.46M623.82,292.60A21.00,21.00 0 0 1 627.56,295.22M624.04,296.26L625.76,293.81M620.96,294.53A18.00,18.00 0 0 1 624.04,296.26M621.07,297.94L622.54,295.32M618.53,296.80A15.00,15.00 0 0 1 621.07,297.94M618.60,300.05L619.83,297.31M616.56,299.35A12.00,12.00 0 0 1 618.60,300.05M617.27,300.60L617.60,299.65M608.05,301.56A11.00,11.00 0 0 1 617.27,300.60M612.76,302.05L612.56,300.06M638.39,292.93L649.45,284.84M639.87,295.15L651.59,288.05M638.39,292.93A30.60,30.60 0 0 1 639.87,295.15M636.75,295.63L639.16,294.02M643.76,296.21L653.45,291.44M652.86,295.81L655.00,294.98M654.03,299.28L656.24,298.64M652.86,295.81A42.00,42.00 0 0 1 654.03,299.28M653.48,297.53L653.48,297.53M654.90,302.84L657.16,302.40M653.48,297.53A42.00,42.00 0 0 1 654.90,302.84M651.67,300.86L654.28,300.17M652.77,306.76L657.74,306.22M651.67,300.86A39.30,39.30 0 0 1 652.77,306.76M649.48,304.32L652.33,303.79M652.99,310.18L657.99,310.07M652.91,313.60L657.90,313.94M652.99,310.18A39.30,39.30 0 0 1 652.91,313.60M650.09,311.83L652.99,311.89M649.48,304.32A36.40,36.40 0 0 1 650.09,311.83M647.09,308.29L649.98,308.06M643.76,296.21A33.50,33.50 0 0 1 647.09,308.29M643.20,302.86L645.99,302.09M643.94,315.68L657.48,317.78M643.20,302.86A30.60,30.60 0 0 1 643.94,315.68M641.35,309.40L644.25,309.23M636.75,295.63A27.70,27.70 0 0 1 641.35,309.40M637.22,303.13L639.97,302.21M637.78,316.92L656.72,321.57M637.22,303.13A24.80,24.80 0 0 1 637.78,316.92M635.58,310.10L638.48,309.98M634.43,318.06L655.64,325.28M635.58,310.10A21.90,21.90 0 0 1 634.43,318.06M632.50,313.72L635.37,314.13M629.54,313.29L632.50,313.72M636.48,321.05L654.23,328.88M645.69,328.58L652.52,332.34M648.60,334.36L650.51,335.64M646.43,337.32L648.22,338.76M648.60,334.36A42.00,42.00 0 0 1 646.43,337.32M645.45,334.33L647.55,335.86M642.14,338.27L645.67,341.66M645.45,334.33A39.40,39.40 0 0 1 642.14,338.27M641.64,334.49L643.86,336.35M645.69,328.58A36.50,36.50 0 0 1 641.64,334.49M641.42,329.99L643.81,331.63M635.83,336.28L642.88,344.33M641.42,329.99A33.60,33.60 0 0 1 635.83,336.28M636.65,331.39L638.82,333.31M633.54,338.11L639.86,346.75M631.11,339.74L636.65,348.89M633.54,338.11A33.60,33.60 0 0 1 631.11,339.74M630.73,336.54L632.34,338.95M636.65,331.39A30.70,30.70 0 0 1 630.73,336.54M631.95,331.97L633.86,334.15M629.81,343.75L633.26,350.75M626.90,345.03L629.72,352.30M629.81,343.75A36.50,36.50 0 0 1 626.90,345.03M627.21,341.77L628.37,344.42M623.07,343.27L626.06,353.54M627.21,341.77A33.60,33.60 0 0 1 623.07,343.27M624.17,339.86L625.16,342.58M619.66,341.12L622.30,354.46M624.17,339.86A30.70,30.70 0 0 1 619.66,341.12M621.16,337.78L621.94,340.57M631.95,331.97A27.80,27.80 0 0 1 621.16,337.78M625.51,332.92L626.88,335.48M636.48,321.05A24.90,24.90 0 0 1 625.51,332.92M629.86,325.93L631.99,327.90M625.45,321.86L629.86,325.93M629.54,313.29A16.00,16.00 0 0 1 625.45,321.86M624.53,316.16L628.14,317.88M617.00,341.42L618.48,355.04M614.34,341.59L614.63,355.29M617.00,341.42A30.60,30.60 0 0 1 614.34,341.59M615.49,338.64L615.67,341.54M611.67,341.53L610.76,355.20M607.27,352.51L606.92,354.78M603.68,351.79L603.13,354.02M607.27,352.51A42.00,42.00 0 0 1 603.68,351.79M606.00,349.54L605.47,352.19M601.03,348.20L599.42,352.94M606.00,349.54A39.30,39.30 0 0 1 601.03,348.20M604.25,346.15L603.50,348.95M597.84,346.96L595.82,351.53M594.77,345.44L592.36,349.82M597.84,346.96A39.30,39.30 0 0 1 594.77,345.44M597.57,343.63L596.29,346.23M604.25,346.15A36.40,36.40 0 0 1 597.57,343.63M601.87,342.34L600.85,345.06M595.06,338.84L589.06,347.81M601.87,342.34A33.50,33.50 0 0 1 595.06,338.84M599.69,338.21L598.37,340.79M611.67,341.53A30.60,30.60 0 0 1 599.69,338.21M606.29,337.69L605.51,340.48M615.49,338.64A27.70,27.70 0 0 1 606.29,337.69M611.15,335.67L610.85,338.55M598.16,330.33L585.94,345.52M611.15,335.67A24.80,24.80 0 0 1 598.16,330.33M605.37,331.25L604.27,333.94M598.54,326.81L583.04,342.97M605.37,331.25A21.90,21.90 0 0 1 598.54,326.81M603.33,326.92L601.75,329.35M605.51,323.57L603.33,326.92M595.79,326.68L580.37,340.18M589.81,328.48L577.95,337.16M580.94,330.84L575.81,333.95M579.34,327.91L573.95,330.56M580.94,330.84A38.30,38.30 0 0 1 579.34,327.91M582.65,328.00L580.11,329.39M574.54,326.19L572.40,327.02M573.37,322.72L571.16,323.36M572.50,319.16L570.24,319.60M573.37,322.72A42.00,42.00 0 0 1 572.50,319.16M572.89,320.95L572.89,320.95M574.54,326.19A42.00,42.00 0 0 1 572.89,320.95M574.40,323.35L573.63,323.59M572.74,315.45L569.66,315.78M574.40,323.35A41.20,41.20 0 0 1 572.74,315.45M576.21,318.85L573.37,319.44M575.41,311.80L569.41,311.93M576.21,318.85A38.30,38.30 0 0 1 575.41,311.80M578.53,315.02L575.65,315.34M582.65,328.00A35.40,35.40 0 0 1 578.53,315.02M582.72,320.83L579.96,321.71M578.38,308.65L569.50,308.06M578.72,305.58L569.92,304.22M578.38,308.65A35.40,35.40 0 0 1 578.72,305.58M581.40,307.43L578.51,307.12M582.72,320.83A32.50,32.50 0 0 1 581.40,307.43M584.24,313.92L581.36,314.20M589.81,328.48A29.60,29.60 0 0 1 584.24,313.92M588.76,320.54L586.05,321.57M587.77,304.63L570.68,300.43M588.76,320.54A26.70,26.70 0 0 1 587.77,304.63M589.95,312.48L587.05,312.66M595.79,326.68A23.80,23.80 0 0 1 589.95,312.48M594.37,318.96L591.69,320.06M593.92,304.26L571.76,296.72M594.37,318.96A20.90,20.90 0 0 1 593.92,304.26M595.71,311.56L592.81,311.65M598.71,311.47L595.71,311.56M605.51,323.57A15.00,15.00 0 0 1 598.71,311.47M603.24,316.88L600.63,318.35M624.53,316.16A12.00,12.00 0 0 1 603.24,316.88M614.00,319.99L614.11,322.99M612.76,302.05A9.00,9.00 0 1 1 614.00,319.99M613.70,311.00L622.68,310.38" fill="none" stroke="#000" stroke-width="1.1" stroke-linecap="square"/><text transform="translate(650.26,284.25) rotate(323.80)" dominant-baseline="central" font-size="2.3" font-family="'Liberation Sans', sans-serif" fill="#444">Dnob98G00364.1</text><text transform="translate(652.45,287.53) rotate(328.80)" dominant-baseline="central" font-size="2.3" font-family="'Liberation Sans', sans-serif" fill="#444">Dlin42G00555.1</text><text transform="translate(654.35,291.00) rotate(333.80)" dominant-baseline="central" font-size="2.3" font-family="'Liberation Sans', sans-serif" fill="#444">Dhuo66G07869.1</text><text transform="translate(655.93,294.62) rotate(338.80)" dominant-baseline="central" font-size="2.3" font-family="'Liberation Sans', sans-serif" fill="#444">Dpor81G09846.1</text><text transform="translate(657.20,298.36) rotate(343.80)" dominant-baseline="central" font-size="2.3" font-family="'Liberation Sans', sans-serif" fill="#444">Dpor34G06484.1</text><text transform="translate(658.14,302.20) rotate(348.80)" dominant-baseline="central" font-size="2.3" font-family="'Liberation Sans', sans-serif" fill="#444">Dzel50G06950.1</text><text transform="translate(658.74,306.11) rotate(353.80)" dominant-baseline="central" font-size="2.3" font-family="'Liberation Sans', sans-serif" fill="#444">Peq99G02057.1</text><text transform="translate(658.99,310.05) rotate(358.80)" dominant-baseline="central" font-size="2.3" font-family="'Liberation Sans', sans-serif" fill="#444">Dsen59G04709.1</text><text transform="translate(658.90,314.00) rotate(3.80)" dominant-baseline="central" font-size="2.3" font-family="'Liberation Sans', sans-serif" fill="#444">Dcat05G04749.1</text><text transform="translate(658.47,317.93) rotate(8.80)" dominant-baseline="central" font-size="2.3" font-family="'Liberation Sans', sans-serif" fill="#444">Dlin52G05255.1</text><text transform="translate(657.69,321.81) rotate(13.80)" dominant-baseline="central" font-size="2.3" font-family="'Liberation Sans', sans-serif" fill="#444">Dcap94G04610.1</text><text transform="translate(656.58,325.60) rotate(18.80)" dominant-baseline="central" font-size="2.3" font-family="'Liberation Sans', sans-serif" fill="#444">Dlin24G08343.1</text><text transform="translate(655.15,329.28) rotate(23.80)" dominant-baseline="central" font-size="2.3" font-family="'Liberation Sans', sans-serif" fill="#444">Dsen26G01195.1</text><text transform="translate(653.40,332.82) rotate(28.80)" dominant-baseline="central" font-size="2.3" font-family="'Liberation Sans', sans-serif" fill="#444">Dsen37G02153.1</text><text transform="translate(651.34,336.20) rotate(33.80)" dominant-baseline="central" font-size="2.3" font-family="'Liberation Sans', sans-serif" fill="#444">Dlin74G03108.1</text><text transform="translate(649.00,339.39) rotate(38.80)" dominant-baseline="central" font-size="2.3" font-family="'Liberation Sans', sans-serif" fill="#444">Dchr59G02451.1</text><text transform="translate(646.40,342.35) rotate(43.80)" dominant-baseline="central" font-size="2.3" font-family="'Liberation Sans', sans-serif" fill="#444">Dthy95G09264.1</text><text transform="translate(643.54,345.08) rotate(48.80)" dominant-baseline="central" font-size="2.3" font-family="'Liberation Sans', sans-serif" fill="#444">Dzel47G05646.1</text><text transform="translate(640.45,347.56) rotate(53.80)" dominant-baseline="central" font-size="2.3" font-family="'Liberation Sans', sans-serif" fill="#444">Dlin60G06230.1</text><text transform="translate(637.17,349.75) rotate(58.80)" dominant-baseline="central" font-size="2.3" font-family="'Liberation Sans', sans-serif" fill="#444">Aof98G06830.1</text><text transform="translate(633.70,351.65) rotate(63.80)" dominant-baseline="central" font-size="2.3" font-family="'Liberation Sans', sans-serif" fill="#444">Dfim78G04853.1</text><text transform="translate(630.08,353.23) rotate(68.80)" dominant-baseline="central" font-size="2.3" font-family="'Liberation Sans', sans-serif" fill="#444">Dcap19G04130.1</text><text transform="translate(626.34,354.50) rotate(73.80)" dominant-baseline="central" font-size="2.3" font-family="'Liberation Sans', sans-serif" fill="#444">Dcat83G06900.1</text><text transform="translate(622.50,355.44) rotate(78.80)" dominant-baseline="central" font-size="2.3" font-family="'Liberation Sans', sans-serif" fill="#444">Aof12G08430.1</text><text transform="translate(618.59,356.04) rotate(83.80)" dominant-baseline="central" font-size="2.3" font-family="'Liberation Sans', sans-serif" fill="#444">Dzel86G00915.1</text><text transform="translate(614.65,356.29) rotate(88.80)" dominant-baseline="central" font-size="2.3" font-family="'Liberation Sans', sans-serif" fill="#444">Dhuo48G07053.1</text><text transform="translate(610.70,356.20) rotate(-86.20)" text-anchor="end" dominant-baseline="central" font-size="2.3" font-family="'Liberation Sans', sans-serif" fill="#444">Dchr18G01234.1</text><text transform="translate(606.77,355.77) rotate(-81.20)" text-anchor="end" dominant-baseline="central" font-size="2.3" font-family="'Liberation Sans', sans-serif" fill="#444">Dthy20G07960.1</text><text transform="translate(602.89,354.99) rotate(-76.20)" text-anchor="end" dominant-baseline="central" font-size="2.3" font-family="'Liberation Sans', sans-serif" fill="#444">Dthy43G04988.1</text><text transform="translate(599.10,353.88) rotate(-71.20)" text-anchor="end" dominant-baseline="central" font-size="2.3" font-family="'Liberation Sans', sans-serif" fill="#444">Peq07G05002.1</text><text transform="translate(595.42,352.45) rotate(-66.20)" text-anchor="end" dominant-baseline="central" font-size="2.3" font-family="'Liberation Sans', sans-serif" fill="#444">Dcat10G01701.1</text><text transform="translate(591.88,350.70) rotate(-61.20)" text-anchor="end" dominant-baseline="central" font-size="2.3" font-family="'Liberation Sans', sans-serif" fill="#444">Dzel87G05251.1</text><text transform="translate(588.50,348.64) rotate(-56.20)" text-anchor="end" dominant-baseline="central" font-size="2.3" font-family="'Liberation Sans', sans-serif" fill="#444">Dsen66G09454.1</text><text transform="translate(585.31,346.30) rotate(-51.20)" text-anchor="end" dominant-baseline="central" font-size="2.3" font-family="'Liberation Sans', sans-serif" fill="#444">Dchr56G01280.1</text><text transform="translate(582.35,343.70) rotate(-46.20)" text-anchor="end" dominant-baseline="central" font-size="2.3" font-family="'Liberation Sans', sans-serif" fill="#444">Dfim61G09205.1</text><text transform="translate(579.62,340.84) rotate(-41.20)" text-anchor="end" dominant-baseline="central" font-size="2.3" font-family="'Liberation Sans', sans-serif" fill="#444">Aof98G06096.1</text><text transform="translate(577.14,337.75) rotate(-36.20)" text-anchor="end" dominant-baseline="central" font-size="2.3" font-family="'Liberation Sans', sans-serif" fill="#444">Dcat57G05667.1</text><text transform="translate(574.95,334.47) rotate(-31.20)" text-anchor="end" dominant-baseline="central" font-size="2.3" font-family="'Liberation Sans', sans-serif" fill="#444">Dcat33G08491.1</text><text transform="translate(573.05,331.00) rotate(-26.20)" text-anchor="end" dominant-baseline="central" font-size="2.3" font-family="'Liberation Sans', sans-serif" fill="#444">Dthy63G06205.1</text><text transform="translate(571.47,327.38) rotate(-21.20)" text-anchor="end" dominant-baseline="central" font-size="2.3" font-family="'Liberation Sans', sans-serif" fill="#444">Dsen84G01718.1</text><text transform="translate(570.20,323.64) rotate(-16.20)" text-anchor="end" dominant-baseline="central" font-size="2.3" font-family="'Liberation Sans', sans-serif" fill="#444">Dthy61G05981.1</text><text transform="translate(569.26,319.80) rotate(-11.20)" text-anchor="end" dominant-baseline="central" font-size="2.3" font-family="'Liberation Sans', sans-serif" fill="#444">Dthy90G07236.1</text><text transform="translate(568.66,315.89) rotate(-6.20)" text-anchor="end" dominant-baseline="central" font-size="2.3" font-family="'Liberation Sans', sans-serif" fill="#444">Dcat81G09162.1</text><text transform="translate(568.41,311.95) rotate(-1.20)" text-anchor="end" dominant-baseline="central" font-size="2.3" font-family="'Liberation Sans', sans-serif" fill="#444">Dcap05G01017.1</text><text transform="translate(568.50,308.00) rotate(3.80)" text-anchor="end" dominant-baseline="central" font-size="2.3" font-family="'Liberation Sans', sans-serif" fill="#444">Dcap49G04109.1</text><text transform="translate(568.93,304.07) rotate(8.80)" text-anchor="end" dominant-baseline="central" font-size="2.3" font-family="'Liberation Sans', sans-serif" fill="#444">Dzel83G01818.1</text><text transform="translate(569.71,300.19) rotate(13.80)" text-anchor="end" dominant-baseline="central" font-size="2.3" font-family="'Liberation Sans', sans-serif" fill="#444">Dcat85G09213.1</text><text transform="translate(570.82,296.40) rotate(18.80)" text-anchor="end" dominant-baseline="central" font-size="2.3" font-family="'Liberation Sans', sans-serif" fill="#444">Dhuo37G09645.1</text><text transform="translate(572.25,292.72) rotate(23.80)" text-anchor="end" dominant-baseline="central" font-size="2.3" font-family="'Liberation Sans', sans-serif" fill="#444">Dlin65G08616.1</text><text transform="translate(574.00,289.18) rotate(28.80)" text-anchor="end" dominant-baseline="central" font-size="2.3" font-family="'Liberation Sans', sans-serif" fill="#444">Dzel36G02699.1</text><text transform="translate(576.06,285.80) rotate(33.80)" text-anchor="end" dominant-baseline="central" font-size="2.3" font-family="'Liberation Sans', sans-serif" fill="#444">Dpor87G02622.1</text><text transform="translate(624.51,267.01) rotate(283.80)" dominant-baseline="central" font-size="2.3" font-family="'Liberation Sans', sans-serif" fill="#444">Dhuo85G01416.1</text><text transform="translate(628.30,268.12) rotate(288.80)" dominant-baseline="central" font-size="2.3" font-family="'Liberation Sans', sans-serif" fill="#444">Dnob78G04185.1</text><text transform="translate(631.98,269.55) rotate(293.80)" dominant-baseline="central" font-size="2.3" font-family="'Liberation Sans', sans-serif" fill="#444">Dpor57G04415.1</text><text transform="translate(635.52,271.30) rotate(298.80)" dominant-baseline="central" font-size="2.3" font-family="'Liberation Sans', sans-serif" fill="#444">Dpor98G08178.1</text><text transform="translate(638.90,273.36) rotate(303.80)" dominant-baseline="central" font-size="2.3" font-family="'Liberation Sans', sans-serif" fill="#444">Dsen04G09222.1</text><text transform="translate(642.09,275.70) rotate(308.80)" dominant-baseline="central" font-size="2.3" font-family="'Liberation Sans', sans-serif" fill="#444">Dsen71G01825.1</text><text transform="translate(645.05,278.30) rotate(313.80)" dominant-baseline="central" font-size="2.3" font-family="'Liberation Sans', sans-serif" fill="#444">Dpor96G08427.1</text><text transform="translate(647.78,281.16) rotate(318.80)" dominant-baseline="central" font-size="2.3" font-family="'Liberation Sans', sans-serif" fill="#444">Aof42G01128.1</text><text transform="translate(578.40,282.61) rotate(38.80)" text-anchor="end" dominant-baseline="central" font-size="2.3" font-family="'Liberation Sans', sans-serif" fill="#222" stroke="#222" stroke-width="0.04">Dnob77G08792.1</text><text transform="translate(581.00,279.65) rotate(43.80)" text-anchor="end" dominant-baseline="central" font-size="2.3" font-family="'Liberation Sans', sans-serif" fill="#222" stroke="#222" stroke-width="0.04">Dhuo43G02985.1</text><text transform="translate(583.86,276.92) rotate(48.80)" text-anchor="end" dominant-baseline="central" font-size="2.3" font-family="'Liberation Sans', sans-serif" fill="#222" stroke="#222" stroke-width="0.04">Dchr84G06999.1</text><text transform="translate(586.95,274.44) rotate(53.80)" text-anchor="end" dominant-baseline="central" font-size="2.3" font-family="'Liberation Sans', sans-serif" fill="#222" stroke="#222" stroke-width="0.04">Dmon34G00476.1</text><text transform="translate(590.23,272.25) rotate(58.80)" text-anchor="end" dominant-baseline="central" font-size="2.3" font-family="'Liberation Sans', sans-serif" fill="#222" stroke="#222" stroke-width="0.04">Dchr29G05357.1</text><text transform="translate(593.70,270.35) rotate(63.80)" text-anchor="end" dominant-baseline="central" font-size="2.3" font-family="'Liberation Sans', sans-serif" fill="#222" stroke="#222" stroke-width="0.04">Dthy26G07937.1</text><text transform="translate(597.32,268.77) rotate(68.80)" text-anchor="end" dominant-baseline="central" font-size="2.3" font-family="'Liberation Sans', sans-serif" fill="#222" stroke="#222" stroke-width="0.04">Dlin80G07160.1</text><text transform="translate(601.06,267.50) rotate(73.80)" text-anchor="end" dominant-baseline="central" font-size="2.3" font-family="'Liberation Sans', sans-serif" fill="#222" stroke="#222" stroke-width="0.04">Aof33G01343.1</text><text transform="translate(604.90,266.56) rotate(78.80)" text-anchor="end" dominant-baseline="central" font-size="2.3" font-family="'Liberation Sans', sans-serif" fill="#222" stroke="#222" stroke-width="0.04">Dchr42G02904.1</text><text transform="translate(608.81,265.96) rotate(83.80)" text-anchor="end" dominant-baseline="central" font-size="2.3" font-family="'Liberation Sans', sans-serif" fill="#222" stroke="#222" stroke-width="0.04">Dhuo05G02611.1</text><text transform="translate(612.75,265.71) rotate(88.80)" text-anchor="end" dominant-baseline="central" font-size="2.3" font-family="'Liberation Sans', sans-serif" fill="#222" stroke="#222" stroke-width="0.04">Dnob14G04057.1</text><text transform="translate(616.70,265.80) rotate(273.80)" dominant-baseline="central" font-size="2.3" font-family="'Liberation Sans', sans-serif" fill="#222" stroke="#222" stroke-width="0.04">Dlin50G00556.1</text><text transform="translate(620.63,266.23) rotate(278.80)" dominant-baseline="central" font-size="2.3" font-family="'Liberation Sans', sans-serif" fill="#222" stroke="#222" stroke-width="0.04">Peq71G03976.1</text><text x="542.4" y="240.9" font-size="15.7" font-family="'Liberation Sans', sans-serif" fill="#111">e</text><text x="648.4" y="247.7" font-size="8.4" textLength="23.6" lengthAdjust="spacingAndGlyphs" font-family="'Liberation Sans', sans-serif" fill="#111">POLD1</text><path d="M656.17,451.82A67.5,67.5 0 1 1 525.47,426.06L549.36,434.99A42.0,42.0 0 1 0 630.68,451.02Z" fill="#C998B8"/><path d="M560.81,389.88A66.0,66.0 0 0 1 616.59,389.88L606.45,411.64A42.0,42.0 0 0 0 570.95,411.64Z" fill="#F4C196"/><path d="M585.93,448.55L550.08,433.70M585.99,448.41L550.97,431.70M586.06,448.27L551.97,429.75M586.14,448.13L553.06,427.86M585.93,448.55A3.00,3.00 0 0 1 586.14,448.13M588.70,449.70L586.03,448.34M563.15,432.14L554.25,426.02M559.82,427.54L555.54,424.25M558.97,424.31L556.92,422.55M560.34,422.79L558.38,420.93M558.97,424.31A39.10,39.10 0 0 1 560.34,422.79M561.65,425.34L559.64,423.54M559.82,427.54A36.40,36.40 0 0 1 561.65,425.34M562.79,428.15L560.71,426.42M565.50,425.25L559.93,419.38M562.79,428.15A33.70,33.70 0 0 1 565.50,425.25M566.07,428.51L564.10,426.66M563.15,432.14A31.00,31.00 0 0 1 566.07,428.51M566.65,431.96L564.54,430.27M563.31,419.97L561.55,417.92M564.90,418.68L563.25,416.54M563.31,419.97A39.10,39.10 0 0 1 564.90,418.68M567.49,423.51L564.09,419.31M566.55,417.48L565.02,415.25M568.27,416.36L566.86,414.06M566.55,417.48A39.10,39.10 0 0 1 568.27,416.36M568.88,419.17L567.40,416.91M570.04,415.34L568.75,412.97M571.87,414.41L570.70,411.97M570.04,415.34A39.10,39.10 0 0 1 571.87,414.41M572.17,417.27L570.95,414.86M568.88,419.17A36.40,36.40 0 0 1 572.17,417.27M571.85,420.51L570.50,418.18M567.49,423.51A33.70,33.70 0 0 1 571.85,420.51M572.67,426.38L569.61,421.93M566.65,431.96A28.30,28.30 0 0 1 572.67,426.38M581.90,442.37L569.46,428.95M574.77,416.07L572.70,411.08M575.65,412.84L574.75,410.30M577.60,412.21L576.83,409.62M575.65,412.84A39.10,39.10 0 0 1 577.60,412.21M577.45,415.08L576.62,412.51M574.77,416.07A36.40,36.40 0 0 1 577.45,415.08M580.77,428.22L576.10,415.55M579.57,411.68L578.94,409.05M581.57,411.25L581.08,408.60M579.57,411.68A39.10,39.10 0 0 1 581.57,411.25M581.69,416.74L580.57,411.45M583.95,413.61L583.24,408.26M585.63,410.72L585.42,408.03M587.68,410.61L587.61,407.91M585.63,410.72A39.10,39.10 0 0 1 587.68,410.61M586.79,413.35L586.65,410.65M583.95,413.61A36.40,36.40 0 0 1 586.79,413.35M585.62,416.14L585.37,413.45M581.69,416.74A33.70,33.70 0 0 1 585.62,416.14M584.86,424.39L583.65,416.38M589.65,413.31L589.79,407.91M591.77,410.72L591.98,408.03M593.80,410.93L594.16,408.26M591.77,410.72A39.10,39.10 0 0 1 593.80,410.93M592.50,413.50L592.79,410.81M589.65,413.31A36.40,36.40 0 0 1 592.50,413.50M590.90,416.07L591.08,413.38M594.84,416.56L596.32,408.60M590.90,416.07A33.70,33.70 0 0 1 594.84,416.56M592.55,418.94L592.88,416.26M595.94,419.56L598.46,409.05M592.55,418.94A31.00,31.00 0 0 1 595.94,419.56M593.77,421.86L594.25,419.20M599.80,412.21L600.57,409.62M601.75,412.84L602.65,410.30M599.80,412.21A39.10,39.10 0 0 1 601.75,412.84M599.95,415.08L600.78,412.51M602.63,416.07L604.70,411.08M599.95,415.08A36.40,36.40 0 0 1 602.63,416.07M598.50,423.15L601.30,415.55M593.77,421.86A28.30,28.30 0 0 1 598.50,423.15M595.45,425.01L596.16,422.40M584.86,424.39A25.60,25.60 0 0 1 595.45,425.01M590.03,426.84L590.19,424.14M580.77,428.22A22.90,22.90 0 0 1 590.03,426.84M587.23,439.81L585.33,427.05M581.90,442.37A10.00,10.00 0 0 1 587.23,439.81M585.67,443.39L584.37,440.69M593.91,438.78L606.70,411.97M597.05,434.32L608.65,412.97M609.13,416.36L610.54,414.06M610.85,417.48L612.38,415.25M609.13,416.36A39.10,39.10 0 0 1 610.85,417.48M599.70,432.76L610.00,416.91M602.64,431.53L614.15,416.54M610.59,424.07L615.85,417.92M613.76,423.30L617.47,419.38M617.06,422.79L619.02,420.93M618.43,424.31L620.48,422.55M617.06,422.79A39.10,39.10 0 0 1 618.43,424.31M615.75,425.34L617.76,423.54M613.76,423.30A36.40,36.40 0 0 1 615.75,425.34M612.84,426.18L614.77,424.30M610.59,424.07A33.70,33.70 0 0 1 612.84,426.18M609.89,427.07L611.74,425.10M613.29,430.83L621.86,424.25M609.89,427.07A31.00,31.00 0 0 1 613.29,430.83M609.67,430.69L611.67,428.88M614.25,432.14L623.15,426.02M619.74,430.68L624.34,427.86M623.06,431.04L625.43,429.75M623.99,432.87L626.43,431.70M623.06,431.04A39.10,39.10 0 0 1 623.99,432.87M621.13,433.17L623.54,431.95M619.74,430.68A36.40,36.40 0 0 1 621.13,433.17M618.10,433.23L620.46,431.91M619.83,436.80L627.32,433.70M618.10,433.23A33.70,33.70 0 0 1 619.83,436.80M616.59,436.17L619.02,434.99M614.25,432.14A31.00,31.00 0 0 1 616.59,436.17M613.16,435.47L615.50,434.11M609.67,430.69A28.30,28.30 0 0 1 613.16,435.47M609.36,434.59L611.54,432.99M625.56,436.65L628.10,435.75M626.19,438.60L628.78,437.83M625.56,436.65A39.10,39.10 0 0 1 626.19,438.60M613.05,441.79L625.89,437.62M609.36,434.59A25.60,25.60 0 0 1 613.05,441.79M609.09,439.27L611.49,438.04M602.64,431.53A22.90,22.90 0 0 1 609.09,439.27M604.22,436.77L606.29,435.04M599.70,432.76A20.20,20.20 0 0 1 604.22,436.77M600.32,436.61L602.11,434.59M597.05,434.32A17.50,17.50 0 0 1 600.32,436.61M597.20,437.58L598.75,435.37M626.72,440.57L629.35,439.94M627.15,442.57L629.80,442.08M626.72,440.57A39.10,39.10 0 0 1 627.15,442.57M624.30,442.13L626.95,441.57M624.79,444.95L630.14,444.24M624.30,442.13A36.40,36.40 0 0 1 624.79,444.95M603.29,447.19L624.57,443.54M597.20,437.58A14.80,14.80 0 0 1 603.29,447.19M598.92,443.23L601.20,441.78M593.91,438.78A12.10,12.10 0 0 1 598.92,443.23M595.47,442.07L596.73,440.65M598.87,448.90L630.37,446.42M595.47,442.07A10.20,10.20 0 0 1 598.87,448.90M596.76,445.69L597.83,445.15M597.70,449.46L630.49,448.61M596.76,445.69A9.00,9.00 0 0 1 597.70,449.46M595.49,448.01L597.43,447.53M585.67,443.39A7.00,7.00 0 0 1 595.49,448.01M590.40,446.08L591.68,443.37M611.59,450.30L630.49,450.79M627.68,452.77L630.37,452.98M627.47,454.80L630.14,455.16M627.68,452.77A39.10,39.10 0 0 1 627.47,454.80M622.22,453.22L627.59,453.79M624.49,456.33L629.80,457.32M626.72,458.83L629.35,459.46M626.19,460.80L628.78,461.57M626.72,458.83A39.10,39.10 0 0 1 626.19,460.80M623.86,459.12L626.47,459.82M624.49,456.33A36.40,36.40 0 0 1 623.86,459.12M621.57,457.14L624.20,457.73M622.22,453.22A33.70,33.70 0 0 1 621.57,457.14M619.29,454.75L621.95,455.19M617.92,460.05L628.10,463.65M619.29,454.75A31.00,31.00 0 0 1 617.92,460.05M616.11,456.76L618.72,457.43M624.82,464.66L627.32,465.70M623.99,466.53L626.43,467.70M624.82,464.66A39.10,39.10 0 0 1 623.99,466.53M614.55,461.21L624.42,465.60M616.11,456.76A28.30,28.30 0 0 1 614.55,461.21M612.87,458.13L615.42,459.02M611.20,461.92L625.43,469.65M612.87,458.13A25.60,25.60 0 0 1 611.20,461.92M609.64,458.96L612.11,460.06M611.59,450.30A22.90,22.90 0 0 1 609.64,458.96M608.41,454.13L611.04,454.73M622.04,470.13L624.34,471.54M620.92,471.85L623.15,473.38M622.04,470.13A39.10,39.10 0 0 1 620.92,471.85M605.64,460.70L621.49,471.00M608.41,454.13A20.20,20.20 0 0 1 605.64,460.70M604.83,456.49L607.32,457.54M602.58,460.35L621.86,475.15M604.83,456.49A17.50,17.50 0 0 1 602.58,460.35M602.19,457.54L603.83,458.49M618.43,475.09L620.48,476.85M617.06,476.61L619.02,478.47M618.43,475.09A39.10,39.10 0 0 1 617.06,476.61M600.29,460.14L617.76,475.86M602.19,457.54A15.60,15.60 0 0 1 600.29,460.14M600.34,458.18L601.31,458.89M610.04,472.19L617.47,480.02M610.59,475.33L615.85,481.48M612.50,480.72L614.15,482.86M610.85,481.92L612.38,484.15M612.50,480.72A39.10,39.10 0 0 1 610.85,481.92M610.10,479.15L611.68,481.33M607.72,480.74L610.54,485.34M610.10,479.15A36.40,36.40 0 0 1 607.72,480.74M607.42,477.72L608.92,479.97M610.59,475.33A33.70,33.70 0 0 1 607.42,477.72M607.41,474.42L609.04,476.57M610.04,472.19A31.00,31.00 0 0 1 607.41,474.42M598.02,460.68L608.76,473.34M600.34,458.18A14.40,14.40 0 0 1 598.02,460.68M598.37,458.68L599.25,459.50M607.36,484.06L608.65,486.43M605.53,484.99L606.70,487.43M607.36,484.06A39.10,39.10 0 0 1 605.53,484.99M594.69,461.46L606.45,484.54M598.37,458.68A13.20,13.20 0 0 1 594.69,461.46M595.93,459.28L596.65,460.23M594.36,463.37L604.70,488.32M594.54,466.20L602.65,489.10M597.50,479.42L600.57,489.78M597.83,487.72L598.46,490.35M595.83,488.15L596.32,490.80M597.83,487.72A39.10,39.10 0 0 1 595.83,488.15M596.27,485.30L596.83,487.95M593.45,485.79L594.16,491.14M596.27,485.30A36.40,36.40 0 0 1 593.45,485.79M594.41,482.91L594.86,485.57M591.77,488.68L591.98,491.37M589.72,488.79L589.79,491.49M591.77,488.68A39.10,39.10 0 0 1 589.72,488.79M590.61,486.05L590.75,488.75M587.75,486.09L587.61,491.49M590.61,486.05A36.40,36.40 0 0 1 587.75,486.09M589.14,483.40L589.18,486.10M594.41,482.91A33.70,33.70 0 0 1 589.14,483.40M591.54,480.57L591.78,483.26M597.50,479.42A31.00,31.00 0 0 1 591.54,480.57M592.51,469.54L594.55,480.14M586.90,472.53L585.42,491.37M585.36,475.08L583.24,491.14M582.56,482.84L581.08,490.80M579.57,487.72L578.94,490.35M577.60,487.19L576.83,489.78M579.57,487.72A39.10,39.10 0 0 1 577.60,487.19M579.28,484.86L578.58,487.47M576.55,484.01L574.75,489.10M579.28,484.86A36.40,36.40 0 0 1 576.55,484.01M578.71,481.88L577.91,484.46M582.56,482.84A33.70,33.70 0 0 1 578.71,481.88M581.27,479.80L580.62,482.42M576.84,478.34L572.70,488.32M581.27,479.80A31.00,31.00 0 0 1 576.84,478.34M579.87,476.59L579.02,479.15M576.52,475.24L570.70,487.43M579.87,476.59A28.30,28.30 0 0 1 576.52,475.24M579.17,473.46L578.17,475.97M585.36,475.08A25.60,25.60 0 0 1 579.17,473.46M582.90,471.85L582.22,474.47M586.90,472.53A22.90,22.90 0 0 1 582.90,471.85M585.34,469.62L584.89,472.28M592.51,469.54A20.20,20.20 0 0 1 585.34,469.62M588.90,467.20L588.93,469.90M594.54,466.20A17.50,17.50 0 0 1 588.90,467.20M591.29,464.27L591.76,466.93M594.36,463.37A14.80,14.80 0 0 1 591.29,464.27M592.40,462.37L592.85,463.91M570.04,484.06L568.75,486.43M568.27,483.04L566.86,485.34M570.04,484.06A39.10,39.10 0 0 1 568.27,483.04M570.50,481.22L569.15,483.56M566.55,481.92L565.02,484.15M564.90,480.72L563.25,482.86M566.55,481.92A39.10,39.10 0 0 1 564.90,480.72M567.30,479.15L565.72,481.33M570.50,481.22A36.40,36.40 0 0 1 567.30,479.15M570.35,477.96L568.88,480.23M566.81,475.33L561.55,481.48M570.35,477.96A33.70,33.70 0 0 1 566.81,475.33M580.80,460.28L568.54,476.70M592.40,462.37A13.20,13.20 0 0 1 580.80,460.28M586.57,461.51L586.36,462.69M595.93,459.28A12.00,12.00 0 0 1 586.57,461.51M590.56,457.48L591.48,461.37M582.23,456.52L559.93,480.02M579.92,458.03L558.38,478.47M565.13,469.83L556.92,476.85M557.68,473.50L555.54,475.15M556.48,471.85L554.25,473.38M557.68,473.50A39.10,39.10 0 0 1 556.48,471.85M559.25,471.10L557.07,472.68M557.66,468.72L553.06,471.54M559.25,471.10A36.40,36.40 0 0 1 557.66,468.72M560.68,468.42L558.43,469.92M559.08,465.78L551.97,469.65M560.68,468.42A33.70,33.70 0 0 1 559.08,465.78M562.16,465.72L559.85,467.12M565.13,469.83A31.00,31.00 0 0 1 562.16,465.72M576.70,458.36L563.56,467.84M553.41,466.53L550.97,467.70M552.58,464.66L550.08,465.70M553.41,466.53A39.10,39.10 0 0 1 552.58,464.66M572.71,456.82L552.98,465.60M551.84,462.75L549.30,463.65M551.21,460.80L548.62,461.57M551.84,462.75A39.10,39.10 0 0 1 551.21,460.80M554.08,460.95L551.51,461.78M553.31,458.20L548.05,459.46M554.08,460.95A36.40,36.40 0 0 1 553.31,458.20M569.26,455.18L553.67,459.58M558.22,455.35L547.60,457.32M555.29,454.10L547.26,455.16M552.41,452.56L547.03,452.98M549.61,450.72L546.91,450.79M549.61,448.68L546.91,448.61M549.61,450.72A39.10,39.10 0 0 1 549.61,448.68M552.30,449.70L549.60,449.70M552.41,452.56A36.40,36.40 0 0 1 552.30,449.70M555.03,451.02L552.33,451.13M555.29,454.10A33.70,33.70 0 0 1 555.03,451.02M557.81,452.33L555.12,452.56M558.22,455.35A31.00,31.00 0 0 1 557.81,452.33M560.65,453.49L557.98,453.85M555.10,447.06L547.03,446.42M549.93,444.60L547.26,444.24M550.25,442.57L547.60,442.08M549.93,444.60A39.10,39.10 0 0 1 550.25,442.57M552.75,444.01L550.08,443.58M553.31,441.20L548.05,439.94M552.75,444.01A36.40,36.40 0 0 1 553.31,441.20M555.65,443.13L553.00,442.60M555.10,447.06A33.70,33.70 0 0 1 555.65,443.13M560.67,445.82L555.32,445.08M560.65,453.49A28.30,28.30 0 0 1 560.67,445.82M563.10,449.66L560.40,449.65M564.15,442.43L548.62,437.83M563.10,449.66A25.60,25.60 0 0 1 564.15,442.43M566.04,446.40L563.37,446.01M567.11,442.06L549.30,435.75M566.04,446.40A22.90,22.90 0 0 1 567.11,442.06M569.09,444.85L566.47,444.20M569.26,455.18A20.20,20.20 0 0 1 569.09,444.85M571.20,449.98L568.50,450.03M572.71,456.82A17.50,17.50 0 0 1 571.20,449.98M574.25,452.89L571.61,453.48M576.70,458.36A14.80,14.80 0 0 1 574.25,452.89M577.66,454.65L575.19,455.75M579.92,458.03A12.10,12.10 0 0 1 577.66,454.65M580.89,454.93L578.65,456.43M582.23,456.52A9.40,9.40 0 0 1 580.89,454.93M582.59,454.86L581.52,455.76M590.56,457.48A8.00,8.00 0 0 1 582.59,454.86M587.45,453.50L586.20,457.30M590.40,446.08A4.00,4.00 0 0 1 587.45,453.50M588.70,449.70L592.42,451.18" fill="none" stroke="#111" stroke-width="0.9" stroke-linecap="square"/><text transform="translate(631.69,450.83) rotate(1.50)" dominant-baseline="central" font-size="2.4" font-family="'Liberation Sans', sans-serif" fill="#666" stroke="#666" stroke-width="0.05">Dpor89G02900.1</text><text transform="translate(548.97,433.24) rotate(22.50)" text-anchor="end" dominant-baseline="central" font-size="2.4" font-family="'Liberation Sans', sans-serif" fill="#666" stroke="#666" stroke-width="0.05">Peq80G03601.1</text><text transform="translate(549.89,431.19) rotate(25.50)" text-anchor="end" dominant-baseline="central" font-size="2.4" font-family="'Liberation Sans', sans-serif" fill="#666" stroke="#666" stroke-width="0.05">Dmon44G05888.1</text><text transform="translate(550.91,429.18) rotate(28.50)" text-anchor="end" dominant-baseline="central" font-size="2.4" font-family="'Liberation Sans', sans-serif" fill="#666" stroke="#666" stroke-width="0.05">Peq89G01718.1</text><text transform="translate(552.04,427.23) rotate(31.50)" text-anchor="end" dominant-baseline="central" font-size="2.4" font-family="'Liberation Sans', sans-serif" fill="#666" stroke="#666" stroke-width="0.05">Dlin06G02672.1</text><text transform="translate(553.26,425.34) rotate(34.50)" text-anchor="end" dominant-baseline="central" font-size="2.4" font-family="'Liberation Sans', sans-serif" fill="#666" stroke="#666" stroke-width="0.05">Dcap78G09906.1</text><text transform="translate(554.59,423.52) rotate(37.50)" text-anchor="end" dominant-baseline="central" font-size="2.4" font-family="'Liberation Sans', sans-serif" fill="#666" stroke="#666" stroke-width="0.05">Aof64G08694.1</text><text transform="translate(556.00,421.77) rotate(40.50)" text-anchor="end" dominant-baseline="central" font-size="2.4" font-family="'Liberation Sans', sans-serif" fill="#666" stroke="#666" stroke-width="0.05">Dsen84G07484.1</text><text transform="translate(557.51,420.10) rotate(43.50)" text-anchor="end" dominant-baseline="central" font-size="2.4" font-family="'Liberation Sans', sans-serif" fill="#666" stroke="#666" stroke-width="0.05">Dpor40G00390.1</text><text transform="translate(559.10,418.51) rotate(46.50)" text-anchor="end" dominant-baseline="central" font-size="2.4" font-family="'Liberation Sans', sans-serif" fill="#666" stroke="#666" stroke-width="0.05">Dpor26G06056.1</text><text transform="translate(560.77,417.00) rotate(49.50)" text-anchor="end" dominant-baseline="central" font-size="2.4" font-family="'Liberation Sans', sans-serif" fill="#666" stroke="#666" stroke-width="0.05">Dcat95G01367.1</text><text transform="translate(562.52,415.59) rotate(52.50)" text-anchor="end" dominant-baseline="central" font-size="2.4" font-family="'Liberation Sans', sans-serif" fill="#666" stroke="#666" stroke-width="0.05">Dmon30G08172.1</text><text transform="translate(564.34,414.26) rotate(55.50)" text-anchor="end" dominant-baseline="central" font-size="2.4" font-family="'Liberation Sans', sans-serif" fill="#666" stroke="#666" stroke-width="0.05">Dcap39G01096.1</text><text transform="translate(566.23,413.04) rotate(58.50)" text-anchor="end" dominant-baseline="central" font-size="2.4" font-family="'Liberation Sans', sans-serif" fill="#666" stroke="#666" stroke-width="0.05">Aof13G00582.1</text><text transform="translate(568.18,411.91) rotate(61.50)" text-anchor="end" dominant-baseline="central" font-size="2.4" font-family="'Liberation Sans', sans-serif" fill="#666" stroke="#666" stroke-width="0.05">Dnob57G02679.1</text><text transform="translate(570.19,410.89) rotate(64.50)" text-anchor="end" dominant-baseline="central" font-size="2.4" font-family="'Liberation Sans', sans-serif" fill="#666" stroke="#666" stroke-width="0.05">Dmon96G05824.1</text><text transform="translate(607.21,410.89) rotate(295.50)" dominant-baseline="central" font-size="2.4" font-family="'Liberation Sans', sans-serif" fill="#666" stroke="#666" stroke-width="0.05">Dchr68G03155.1</text><text transform="translate(609.22,411.91) rotate(298.50)" dominant-baseline="central" font-size="2.4" font-family="'Liberation Sans', sans-serif" fill="#666" stroke="#666" stroke-width="0.05">Dcat56G09639.1</text><text transform="translate(611.17,413.04) rotate(301.50)" dominant-baseline="central" font-size="2.4" font-family="'Liberation Sans', sans-serif" fill="#666" stroke="#666" stroke-width="0.05">Dsen68G02992.1</text><text transform="translate(613.06,414.26) rotate(304.50)" dominant-baseline="central" font-size="2.4" font-family="'Liberation Sans', sans-serif" fill="#666" stroke="#666" stroke-width="0.05">Dhuo17G04038.1</text><text transform="translate(614.88,415.59) rotate(307.50)" dominant-baseline="central" font-size="2.4" font-family="'Liberation Sans', sans-serif" fill="#666" stroke="#666" stroke-width="0.05">Dcat82G09406.1</text><text transform="translate(616.63,417.00) rotate(310.50)" dominant-baseline="central" font-size="2.4" font-family="'Liberation Sans', sans-serif" fill="#666" stroke="#666" stroke-width="0.05">Dnob98G04815.1</text><text transform="translate(618.30,418.51) rotate(313.50)" dominant-baseline="central" font-size="2.4" font-family="'Liberation Sans', sans-serif" fill="#666" stroke="#666" stroke-width="0.05">Dnob41G05102.1</text><text transform="translate(619.89,420.10) rotate(316.50)" dominant-baseline="central" font-size="2.4" font-family="'Liberation Sans', sans-serif" fill="#666" stroke="#666" stroke-width="0.05">Dnob63G03785.1</text><text transform="translate(621.40,421.77) rotate(319.50)" dominant-baseline="central" font-size="2.4" font-family="'Liberation Sans', sans-serif" fill="#666" stroke="#666" stroke-width="0.05">Dthy76G05552.1</text><text transform="translate(622.81,423.52) rotate(322.50)" dominant-baseline="central" font-size="2.4" font-family="'Liberation Sans', sans-serif" fill="#666" stroke="#666" stroke-width="0.05">Aof78G01906.1</text><text transform="translate(624.14,425.34) rotate(325.50)" dominant-baseline="central" font-size="2.4" font-family="'Liberation Sans', sans-serif" fill="#666" stroke="#666" stroke-width="0.05">Dthy50G06178.1</text><text transform="translate(625.36,427.23) rotate(328.50)" dominant-baseline="central" font-size="2.4" font-family="'Liberation Sans', sans-serif" fill="#666" stroke="#666" stroke-width="0.05">Dpor08G05016.1</text><text transform="translate(626.49,429.18) rotate(331.50)" dominant-baseline="central" font-size="2.4" font-family="'Liberation Sans', sans-serif" fill="#666" stroke="#666" stroke-width="0.05">Peq23G02625.1</text><text transform="translate(627.51,431.19) rotate(334.50)" dominant-baseline="central" font-size="2.4" font-family="'Liberation Sans', sans-serif" fill="#666" stroke="#666" stroke-width="0.05">Dchr66G08440.1</text><text transform="translate(628.43,433.24) rotate(337.50)" dominant-baseline="central" font-size="2.4" font-family="'Liberation Sans', sans-serif" fill="#666" stroke="#666" stroke-width="0.05">Aof41G04220.1</text><text transform="translate(629.23,435.35) rotate(340.50)" dominant-baseline="central" font-size="2.4" font-family="'Liberation Sans', sans-serif" fill="#666" stroke="#666" stroke-width="0.05">Dthy70G09705.1</text><text transform="translate(629.93,437.49) rotate(343.50)" dominant-baseline="central" font-size="2.4" font-family="'Liberation Sans', sans-serif" fill="#666" stroke="#666" stroke-width="0.05">Dnob32G05393.1</text><text transform="translate(630.51,439.66) rotate(346.50)" dominant-baseline="central" font-size="2.4" font-family="'Liberation Sans', sans-serif" fill="#666" stroke="#666" stroke-width="0.05">Dlin79G08372.1</text><text transform="translate(630.98,441.86) rotate(349.50)" dominant-baseline="central" font-size="2.4" font-family="'Liberation Sans', sans-serif" fill="#666" stroke="#666" stroke-width="0.05">Dmon62G04887.1</text><text transform="translate(631.33,444.09) rotate(352.50)" dominant-baseline="central" font-size="2.4" font-family="'Liberation Sans', sans-serif" fill="#666" stroke="#666" stroke-width="0.05">Dcap47G06581.1</text><text transform="translate(631.57,446.33) rotate(355.50)" dominant-baseline="central" font-size="2.4" font-family="'Liberation Sans', sans-serif" fill="#666" stroke="#666" stroke-width="0.05">Aof36G00326.1</text><text transform="translate(631.69,448.57) rotate(358.50)" dominant-baseline="central" font-size="2.4" font-family="'Liberation Sans', sans-serif" fill="#666" stroke="#666" stroke-width="0.05">Dzel84G00307.1</text><text transform="translate(631.57,453.07) rotate(4.50)" dominant-baseline="central" font-size="2.5" font-family="'Liberation Sans', sans-serif" fill="#1a1018" stroke="#1a1018" stroke-width="0.12">Aof54G00091.1</text><text transform="translate(631.33,455.31) rotate(7.50)" dominant-baseline="central" font-size="2.5" font-family="'Liberation Sans', sans-serif" fill="#1a1018" stroke="#1a1018" stroke-width="0.12">Aof14G05211.1</text><text transform="translate(630.98,457.54) rotate(10.50)" dominant-baseline="central" font-size="2.5" font-family="'Liberation Sans', sans-serif" fill="#1a1018" stroke="#1a1018" stroke-width="0.12">Aof85G00255.1</text><text transform="translate(630.51,459.74) rotate(13.50)" dominant-baseline="central" font-size="2.5" font-family="'Liberation Sans', sans-serif" fill="#1a1018" stroke="#1a1018" stroke-width="0.12">Dnob71G06079.1</text><text transform="translate(629.93,461.91) rotate(16.50)" dominant-baseline="central" font-size="2.5" font-family="'Liberation Sans', sans-serif" fill="#1a1018" stroke="#1a1018" stroke-width="0.12">Dcat96G06909.1</text><text transform="translate(629.23,464.05) rotate(19.50)" dominant-baseline="central" font-size="2.5" font-family="'Liberation Sans', sans-serif" fill="#1a1018" stroke="#1a1018" stroke-width="0.12">Dnob11G01465.1</text><text transform="translate(628.43,466.16) rotate(22.50)" dominant-baseline="central" font-size="2.5" font-family="'Liberation Sans', sans-serif" fill="#1a1018" stroke="#1a1018" stroke-width="0.12">Peq97G07781.1</text><text transform="translate(627.51,468.21) rotate(25.50)" dominant-baseline="central" font-size="2.5" font-family="'Liberation Sans', sans-serif" fill="#1a1018" stroke="#1a1018" stroke-width="0.12">Dzel80G04917.1</text><text transform="translate(626.49,470.22) rotate(28.50)" dominant-baseline="central" font-size="2.5" font-family="'Liberation Sans', sans-serif" fill="#1a1018" stroke="#1a1018" stroke-width="0.12">Dcat31G07974.1</text><text transform="translate(625.36,472.17) rotate(31.50)" dominant-baseline="central" font-size="2.5" font-family="'Liberation Sans', sans-serif" fill="#1a1018" stroke="#1a1018" stroke-width="0.12">Dcat54G02938.1</text><text transform="translate(624.14,474.06) rotate(34.50)" dominant-baseline="central" font-size="2.5" font-family="'Liberation Sans', sans-serif" fill="#1a1018" stroke="#1a1018" stroke-width="0.12">Dhuo57G07356.1</text><text transform="translate(622.81,475.88) rotate(37.50)" dominant-baseline="central" font-size="2.5" font-family="'Liberation Sans', sans-serif" fill="#1a1018" stroke="#1a1018" stroke-width="0.12">Dpor43G06336.1</text><text transform="translate(621.40,477.63) rotate(40.50)" dominant-baseline="central" font-size="2.5" font-family="'Liberation Sans', sans-serif" fill="#1a1018" stroke="#1a1018" stroke-width="0.12">Dchr95G03227.1</text><text transform="translate(619.89,479.30) rotate(43.50)" dominant-baseline="central" font-size="2.5" font-family="'Liberation Sans', sans-serif" fill="#1a1018" stroke="#1a1018" stroke-width="0.12">Dsen01G04217.1</text><text transform="translate(618.30,480.89) rotate(46.50)" dominant-baseline="central" font-size="2.5" font-family="'Liberation Sans', sans-serif" fill="#1a1018" stroke="#1a1018" stroke-width="0.12">Aof43G06687.1</text><text transform="translate(616.63,482.40) rotate(49.50)" dominant-baseline="central" font-size="2.5" font-family="'Liberation Sans', sans-serif" fill="#1a1018" stroke="#1a1018" stroke-width="0.12">Dpor59G07510.1</text><text transform="translate(614.88,483.81) rotate(52.50)" dominant-baseline="central" font-size="2.5" font-family="'Liberation Sans', sans-serif" fill="#1a1018" stroke="#1a1018" stroke-width="0.12">Dmon90G04954.1</text><text transform="translate(613.06,485.14) rotate(55.50)" dominant-baseline="central" font-size="2.5" font-family="'Liberation Sans', sans-serif" fill="#1a1018" stroke="#1a1018" stroke-width="0.12">Dpor90G02673.1</text><text transform="translate(611.17,486.36) rotate(58.50)" dominant-baseline="central" font-size="2.5" font-family="'Liberation Sans', sans-serif" fill="#1a1018" stroke="#1a1018" stroke-width="0.12">Dcat43G02017.1</text><text transform="translate(609.22,487.49) rotate(61.50)" dominant-baseline="central" font-size="2.5" font-family="'Liberation Sans', sans-serif" fill="#1a1018" stroke="#1a1018" stroke-width="0.12">Dnob85G01337.1</text><text transform="translate(607.21,488.51) rotate(64.50)" dominant-baseline="central" font-size="2.5" font-family="'Liberation Sans', sans-serif" fill="#1a1018" stroke="#1a1018" stroke-width="0.12">Dmon20G07802.1</text><text transform="translate(605.16,489.43) rotate(67.50)" dominant-baseline="central" font-size="2.5" font-family="'Liberation Sans', sans-serif" fill="#1a1018" stroke="#1a1018" stroke-width="0.12">Dchr45G08889.1</text><text transform="translate(603.05,490.23) rotate(70.50)" dominant-baseline="central" font-size="2.5" font-family="'Liberation Sans', sans-serif" fill="#1a1018" stroke="#1a1018" stroke-width="0.12">Dthy26G03166.1</text><text transform="translate(600.91,490.93) rotate(73.50)" dominant-baseline="central" font-size="2.5" font-family="'Liberation Sans', sans-serif" fill="#1a1018" stroke="#1a1018" stroke-width="0.12">Dhuo77G03068.1</text><text transform="translate(598.74,491.51) rotate(76.50)" dominant-baseline="central" font-size="2.5" font-family="'Liberation Sans', sans-serif" fill="#1a1018" stroke="#1a1018" stroke-width="0.12">Dlin85G07531.1</text><text transform="translate(596.54,491.98) rotate(79.50)" dominant-baseline="central" font-size="2.5" font-family="'Liberation Sans', sans-serif" fill="#1a1018" stroke="#1a1018" stroke-width="0.12">Dfim13G03614.1</text><text transform="translate(594.31,492.33) rotate(82.50)" dominant-baseline="central" font-size="2.5" font-family="'Liberation Sans', sans-serif" fill="#1a1018" stroke="#1a1018" stroke-width="0.12">Dzel54G00581.1</text><text transform="translate(592.07,492.57) rotate(85.50)" dominant-baseline="central" font-size="2.5" font-family="'Liberation Sans', sans-serif" fill="#1a1018" stroke="#1a1018" stroke-width="0.12">Dcat75G08647.1</text><text transform="translate(589.83,492.69) rotate(88.50)" dominant-baseline="central" font-size="2.5" font-family="'Liberation Sans', sans-serif" fill="#1a1018" stroke="#1a1018" stroke-width="0.12">Dcat31G06028.1</text><text transform="translate(587.57,492.69) rotate(-88.50)" text-anchor="end" dominant-baseline="central" font-size="2.5" font-family="'Liberation Sans', sans-serif" fill="#1a1018" stroke="#1a1018" stroke-width="0.12">Dsen27G02887.1</text><text transform="translate(585.33,492.57) rotate(-85.50)" text-anchor="end" dominant-baseline="central" font-size="2.5" font-family="'Liberation Sans', sans-serif" fill="#1a1018" stroke="#1a1018" stroke-width="0.12">Aof91G03788.1</text><text transform="translate(583.09,492.33) rotate(-82.50)" text-anchor="end" dominant-baseline="central" font-size="2.5" font-family="'Liberation Sans', sans-serif" fill="#1a1018" stroke="#1a1018" stroke-width="0.12">Dmon82G08884.1</text><text transform="translate(580.86,491.98) rotate(-79.50)" text-anchor="end" dominant-baseline="central" font-size="2.5" font-family="'Liberation Sans', sans-serif" fill="#1a1018" stroke="#1a1018" stroke-width="0.12">Dmon69G03428.1</text><text transform="translate(578.66,491.51) rotate(-76.50)" text-anchor="end" dominant-baseline="central" font-size="2.5" font-family="'Liberation Sans', sans-serif" fill="#1a1018" stroke="#1a1018" stroke-width="0.12">Dzel49G07368.1</text><text transform="translate(576.49,490.93) rotate(-73.50)" text-anchor="end" dominant-baseline="central" font-size="2.5" font-family="'Liberation Sans', sans-serif" fill="#1a1018" stroke="#1a1018" stroke-width="0.12">Dnob80G09608.1</text><text transform="translate(574.35,490.23) rotate(-70.50)" text-anchor="end" dominant-baseline="central" font-size="2.5" font-family="'Liberation Sans', sans-serif" fill="#1a1018" stroke="#1a1018" stroke-width="0.12">Dcat86G08917.1</text><text transform="translate(572.24,489.43) rotate(-67.50)" text-anchor="end" dominant-baseline="central" font-size="2.5" font-family="'Liberation Sans', sans-serif" fill="#1a1018" stroke="#1a1018" stroke-width="0.12">Dnob21G08766.1</text><text transform="translate(570.19,488.51) rotate(-64.50)" text-anchor="end" dominant-baseline="central" font-size="2.5" font-family="'Liberation Sans', sans-serif" fill="#1a1018" stroke="#1a1018" stroke-width="0.12">Dmon37G07256.1</text><text transform="translate(568.18,487.49) rotate(-61.50)" text-anchor="end" dominant-baseline="central" font-size="2.5" font-family="'Liberation Sans', sans-serif" fill="#1a1018" stroke="#1a1018" stroke-width="0.12">Dcap78G05136.1</text><text transform="translate(566.23,486.36) rotate(-58.50)" text-anchor="end" dominant-baseline="central" font-size="2.5" font-family="'Liberation Sans', sans-serif" fill="#1a1018" stroke="#1a1018" stroke-width="0.12">Dlin04G02003.1</text><text transform="translate(564.34,485.14) rotate(-55.50)" text-anchor="end" dominant-baseline="central" font-size="2.5" font-family="'Liberation Sans', sans-serif" fill="#1a1018" stroke="#1a1018" stroke-width="0.12">Dhuo30G04553.1</text><text transform="translate(562.52,483.81) rotate(-52.50)" text-anchor="end" dominant-baseline="central" font-size="2.5" font-family="'Liberation Sans', sans-serif" fill="#1a1018" stroke="#1a1018" stroke-width="0.12">Dlin71G07918.1</text><text transform="translate(560.77,482.40) rotate(-49.50)" text-anchor="end" dominant-baseline="central" font-size="2.5" font-family="'Liberation Sans', sans-serif" fill="#1a1018" stroke="#1a1018" stroke-width="0.12">Dlin43G08606.1</text><text transform="translate(559.10,480.89) rotate(-46.50)" text-anchor="end" dominant-baseline="central" font-size="2.5" font-family="'Liberation Sans', sans-serif" fill="#1a1018" stroke="#1a1018" stroke-width="0.12">Dpor68G09283.1</text><text transform="translate(557.51,479.30) rotate(-43.50)" text-anchor="end" dominant-baseline="central" font-size="2.5" font-family="'Liberation Sans', sans-serif" fill="#1a1018" stroke="#1a1018" stroke-width="0.12">Dcap83G08389.1</text><text transform="translate(556.00,477.63) rotate(-40.50)" text-anchor="end" dominant-baseline="central" font-size="2.5" font-family="'Liberation Sans', sans-serif" fill="#1a1018" stroke="#1a1018" stroke-width="0.12">Dlin23G05259.1</text><text transform="translate(554.59,475.88) rotate(-37.50)" text-anchor="end" dominant-baseline="central" font-size="2.5" font-family="'Liberation Sans', sans-serif" fill="#1a1018" stroke="#1a1018" stroke-width="0.12">Dsen33G03123.1</text><text transform="translate(553.26,474.06) rotate(-34.50)" text-anchor="end" dominant-baseline="central" font-size="2.5" font-family="'Liberation Sans', sans-serif" fill="#1a1018" stroke="#1a1018" stroke-width="0.12">Dhuo14G06166.1</text><text transform="translate(552.04,472.17) rotate(-31.50)" text-anchor="end" dominant-baseline="central" font-size="2.5" font-family="'Liberation Sans', sans-serif" fill="#1a1018" stroke="#1a1018" stroke-width="0.12">Dzel23G06013.1</text><text transform="translate(550.91,470.22) rotate(-28.50)" text-anchor="end" dominant-baseline="central" font-size="2.5" font-family="'Liberation Sans', sans-serif" fill="#1a1018" stroke="#1a1018" stroke-width="0.12">Dlin55G01858.1</text><text transform="translate(549.89,468.21) rotate(-25.50)" text-anchor="end" dominant-baseline="central" font-size="2.5" font-family="'Liberation Sans', sans-serif" fill="#1a1018" stroke="#1a1018" stroke-width="0.12">Dpor31G07100.1</text><text transform="translate(548.97,466.16) rotate(-22.50)" text-anchor="end" dominant-baseline="central" font-size="2.5" font-family="'Liberation Sans', sans-serif" fill="#1a1018" stroke="#1a1018" stroke-width="0.12">Dthy89G08972.1</text><text transform="translate(548.17,464.05) rotate(-19.50)" text-anchor="end" dominant-baseline="central" font-size="2.5" font-family="'Liberation Sans', sans-serif" fill="#1a1018" stroke="#1a1018" stroke-width="0.12">Dchr21G03224.1</text><text transform="translate(547.47,461.91) rotate(-16.50)" text-anchor="end" dominant-baseline="central" font-size="2.5" font-family="'Liberation Sans', sans-serif" fill="#1a1018" stroke="#1a1018" stroke-width="0.12">Dpor19G00271.1</text><text transform="translate(546.89,459.74) rotate(-13.50)" text-anchor="end" dominant-baseline="central" font-size="2.5" font-family="'Liberation Sans', sans-serif" fill="#1a1018" stroke="#1a1018" stroke-width="0.12">Dthy15G06768.1</text><text transform="translate(546.42,457.54) rotate(-10.50)" text-anchor="end" dominant-baseline="central" font-size="2.5" font-family="'Liberation Sans', sans-serif" fill="#1a1018" stroke="#1a1018" stroke-width="0.12">Dsen63G09500.1</text><text transform="translate(546.07,455.31) rotate(-7.50)" text-anchor="end" dominant-baseline="central" font-size="2.5" font-family="'Liberation Sans', sans-serif" fill="#1a1018" stroke="#1a1018" stroke-width="0.12">Dcap32G06755.1</text><text transform="translate(545.83,453.07) rotate(-4.50)" text-anchor="end" dominant-baseline="central" font-size="2.5" font-family="'Liberation Sans', sans-serif" fill="#1a1018" stroke="#1a1018" stroke-width="0.12">Peq39G02180.1</text><text transform="translate(545.71,450.83) rotate(-1.50)" text-anchor="end" dominant-baseline="central" font-size="2.5" font-family="'Liberation Sans', sans-serif" fill="#1a1018" stroke="#1a1018" stroke-width="0.12">Dsen16G09938.1</text><text transform="translate(545.71,448.57) rotate(1.50)" text-anchor="end" dominant-baseline="central" font-size="2.5" font-family="'Liberation Sans', sans-serif" fill="#1a1018" stroke="#1a1018" stroke-width="0.12">Dlin54G04126.1</text><text transform="translate(545.83,446.33) rotate(4.50)" text-anchor="end" dominant-baseline="central" font-size="2.5" font-family="'Liberation Sans', sans-serif" fill="#1a1018" stroke="#1a1018" stroke-width="0.12">Dhuo58G05626.1</text><text transform="translate(546.07,444.09) rotate(7.50)" text-anchor="end" dominant-baseline="central" font-size="2.5" font-family="'Liberation Sans', sans-serif" fill="#1a1018" stroke="#1a1018" stroke-width="0.12">Dchr21G05471.1</text><text transform="translate(546.42,441.86) rotate(10.50)" text-anchor="end" dominant-baseline="central" font-size="2.5" font-family="'Liberation Sans', sans-serif" fill="#1a1018" stroke="#1a1018" stroke-width="0.12">Dcat59G00344.1</text><text transform="translate(546.89,439.66) rotate(13.50)" text-anchor="end" dominant-baseline="central" font-size="2.5" font-family="'Liberation Sans', sans-serif" fill="#1a1018" stroke="#1a1018" stroke-width="0.12">Dsen36G09281.1</text><text transform="translate(547.47,437.49) rotate(16.50)" text-anchor="end" dominant-baseline="central" font-size="2.5" font-family="'Liberation Sans', sans-serif" fill="#1a1018" stroke="#1a1018" stroke-width="0.12">Peq87G03169.1</text><text transform="translate(548.17,435.35) rotate(19.50)" text-anchor="end" dominant-baseline="central" font-size="2.5" font-family="'Liberation Sans', sans-serif" fill="#1a1018" stroke="#1a1018" stroke-width="0.12">Dcat19G01347.1</text><text transform="translate(572.24,409.97) rotate(67.50)" text-anchor="end" dominant-baseline="central" font-size="2.5" font-family="'Liberation Sans', sans-serif" fill="#1a1018" stroke="#1a1018" stroke-width="0.12">Dfim23G07184.1</text><text transform="translate(574.35,409.17) rotate(70.50)" text-anchor="end" dominant-baseline="central" font-size="2.5" font-family="'Liberation Sans', sans-serif" fill="#1a1018" stroke="#1a1018" stroke-width="0.12">Dthy89G05449.1</text><text transform="translate(576.49,408.47) rotate(73.50)" text-anchor="end" dominant-baseline="central" font-size="2.5" font-family="'Liberation Sans', sans-serif" fill="#1a1018" stroke="#1a1018" stroke-width="0.12">Dpor99G03433.1</text><text transform="translate(578.66,407.89) rotate(76.50)" text-anchor="end" dominant-baseline="central" font-size="2.5" font-family="'Liberation Sans', sans-serif" fill="#1a1018" stroke="#1a1018" stroke-width="0.12">Dchr83G00004.1</text><text transform="translate(580.86,407.42) rotate(79.50)" text-anchor="end" dominant-baseline="central" font-size="2.5" font-family="'Liberation Sans', sans-serif" fill="#1a1018" stroke="#1a1018" stroke-width="0.12">Dmon60G09013.1</text><text transform="translate(583.09,407.07) rotate(82.50)" text-anchor="end" dominant-baseline="central" font-size="2.5" font-family="'Liberation Sans', sans-serif" fill="#1a1018" stroke="#1a1018" stroke-width="0.12">Dzel41G01283.1</text><text transform="translate(585.33,406.83) rotate(85.50)" text-anchor="end" dominant-baseline="central" font-size="2.5" font-family="'Liberation Sans', sans-serif" fill="#1a1018" stroke="#1a1018" stroke-width="0.12">Dpor57G07535.1</text><text transform="translate(587.57,406.71) rotate(88.50)" text-anchor="end" dominant-baseline="central" font-size="2.5" font-family="'Liberation Sans', sans-serif" fill="#1a1018" stroke="#1a1018" stroke-width="0.12">Dsen72G01179.1</text><text transform="translate(589.83,406.71) rotate(271.50)" dominant-baseline="central" font-size="2.5" font-family="'Liberation Sans', sans-serif" fill="#1a1018" stroke="#1a1018" stroke-width="0.12">Dcap37G06462.1</text><text transform="translate(592.07,406.83) rotate(274.50)" dominant-baseline="central" font-size="2.5" font-family="'Liberation Sans', sans-serif" fill="#1a1018" stroke="#1a1018" stroke-width="0.12">Dsen29G05482.1</text><text transform="translate(594.31,407.07) rotate(277.50)" dominant-baseline="central" font-size="2.5" font-family="'Liberation Sans', sans-serif" fill="#1a1018" stroke="#1a1018" stroke-width="0.12">Peq59G01751.1</text><text transform="translate(596.54,407.42) rotate(280.50)" dominant-baseline="central" font-size="2.5" font-family="'Liberation Sans', sans-serif" fill="#1a1018" stroke="#1a1018" stroke-width="0.12">Dzel16G09977.1</text><text transform="translate(598.74,407.89) rotate(283.50)" dominant-baseline="central" font-size="2.5" font-family="'Liberation Sans', sans-serif" fill="#1a1018" stroke="#1a1018" stroke-width="0.12">Dmon01G04391.1</text><text transform="translate(600.91,408.47) rotate(286.50)" dominant-baseline="central" font-size="2.5" font-family="'Liberation Sans', sans-serif" fill="#1a1018" stroke="#1a1018" stroke-width="0.12">Dfim47G05423.1</text><text transform="translate(603.05,409.17) rotate(289.50)" dominant-baseline="central" font-size="2.5" font-family="'Liberation Sans', sans-serif" fill="#1a1018" stroke="#1a1018" stroke-width="0.12">Dsen55G01579.1</text><text transform="translate(605.16,409.97) rotate(292.50)" dominant-baseline="central" font-size="2.5" font-family="'Liberation Sans', sans-serif" fill="#1a1018" stroke="#1a1018" stroke-width="0.12">Dlin47G08475.1</text><text x="544.6" y="387.9" font-size="15.7" font-family="'Liberation Sans', sans-serif" fill="#111">f</text><text x="648.0" y="405.9" font-size="8.2" textLength="14.0" lengthAdjust="spacingAndGlyphs" font-family="'Liberation Sans', sans-serif" fill="#111">RPA</text><path d="M121.50,345.80L123.40,345.80M123.40,225.40L123.40,466.60M123.40,225.40L130.90,225.40M123.40,466.60L130.50,466.60M130.90,181.60L130.90,269.60M130.90,181.60L137.30,181.60M130.90,269.60L167.40,269.60M137.30,168.40L137.30,194.30M137.30,168.40L145.30,168.40M145.30,145.50L145.30,191.40M145.30,145.50L148.20,145.50M145.30,191.40L174.50,191.40M148.20,108.40L148.20,182.00M148.20,108.40L167.40,108.40M148.20,182.00L186.20,182.00M186.20,179.40L186.20,185.20M186.20,179.40L197.00,179.40M186.20,185.20L198.60,185.20M167.40,71.50L167.40,145.60M167.40,71.50L177.20,71.50M167.40,145.60L198.10,145.60M177.20,48.00L177.20,95.60M177.20,48.00L198.20,48.00M177.20,95.60L192.20,95.60M198.20,37.80L198.20,58.30M198.20,37.80L207.60,37.80M198.20,58.30L200.70,58.30M200.70,52.90L200.70,63.30M200.70,52.90L211.70,52.90M200.70,63.30L212.50,63.30M192.20,89.00L192.20,101.50M192.20,89.00L195.10,89.00M192.20,101.50L195.60,101.50M195.10,81.00L195.10,97.60M195.10,81.00L200.00,81.00M195.10,97.60L197.50,97.60M200.00,74.50L200.00,87.50M200.00,74.50L207.70,74.50M200.00,87.50L201.50,87.50M207.70,71.60L207.70,75.90M207.70,71.60L211.50,71.60M207.70,75.90L284.00,75.90M167.40,252.20L167.40,287.20M167.40,252.20L180.60,252.20M167.40,287.20L187.60,287.20M180.60,242.00L180.60,262.20M180.60,242.00L205.60,242.00M180.60,262.20L209.30,262.20M205.60,237.10L205.60,247.30M205.60,237.10L236.10,237.10M205.60,247.30L259.80,247.30M236.10,231.70L236.10,243.30M236.10,231.70L240.50,231.70M236.10,243.30L248.20,243.30M240.50,227.10L240.50,236.50M240.50,227.10L244.30,227.10M240.50,236.50L246.60,236.50M209.30,259.60L209.30,264.20M209.30,259.60L240.50,259.60M209.30,264.20L245.00,264.20M187.60,277.00L187.60,297.20M187.60,277.00L227.50,277.00M187.60,297.20L246.00,297.20M227.50,273.90L227.50,280.20M227.50,273.90L233.00,273.90M227.50,280.20L234.00,280.20M130.50,436.90L130.50,494.90M130.50,436.90L136.10,436.90M130.50,494.90L147.60,494.90M136.10,409.90L136.10,464.20M136.10,409.90L151.10,409.90M136.10,464.20L180.90,464.20M151.10,387.90L151.10,432.10M151.10,387.90L159.50,387.90M151.10,432.10L154.70,432.10M154.70,424.00L154.70,433.50M154.70,424.00L176.40,424.00M159.50,368.10L159.50,409.20M159.50,368.10L166.50,368.10M159.50,409.20L178.80,409.20M166.50,351.00L166.50,384.80M166.50,351.00L176.60,351.00M166.50,384.80L174.70,384.80M176.60,346.20L176.60,356.80M176.60,346.20L194.00,346.20M176.60,356.80L180.00,356.80M194.00,340.40L194.00,350.00M194.00,340.40L209.80,340.40M194.00,350.00L196.00,350.00M209.80,318.20L209.80,340.40M209.80,318.20L222.50,318.20M209.80,334.00L210.50,334.00M222.50,314.30L222.50,323.00M222.50,314.30L226.80,314.30M222.50,323.00L261.00,323.00M147.60,491.10L147.60,498.20M147.60,491.10L174.30,491.10M147.60,498.20L214.50,498.20M174.30,486.30L174.30,495.80M174.30,486.30L178.20,486.30M174.30,495.80L213.00,495.80M178.20,481.20L178.20,491.40M178.20,481.20L189.60,481.20M178.20,491.40L196.20,491.40M189.60,477.50L189.60,484.10M189.60,477.50L192.60,477.50M189.60,484.10L198.40,484.10M192.60,474.60L192.60,479.70M192.60,474.60L197.70,474.60M197.70,470.50L197.70,476.00M196.20,488.50L196.20,493.80M198.40,482.00L198.40,486.00" stroke="rgba(8,14,20,0.92)" stroke-width="0.9" fill="none" stroke-linecap="square"/><path d="M137.30,194.30L219.80,194.30" stroke="rgba(20,8,4,0.85)" stroke-width="1.0" fill="none" stroke-linecap="square"/><path d="M174.50,189.60L174.50,192.60M185.50,189.40L201.50,189.40M184.00,192.90L208.00,192.90M207.60,37.80L209.30,37.80M209.30,12.40L209.30,37.80M211.07,12.40L211.07,17.02M209.30,14.71L211.07,14.71M211.07,12.40L214.10,12.40M211.07,14.71L216.40,14.71M211.07,17.02L217.62,17.02M213.07,19.33L213.07,26.25M209.30,22.79L213.07,22.79M213.07,19.33L214.60,19.33M213.07,21.64L216.09,21.64M213.07,23.95L218.65,23.95M213.07,26.25L216.99,26.25M210.64,28.56L210.64,30.87M209.30,29.72L210.64,29.72M210.64,28.56L214.52,28.56M210.64,30.87L213.11,30.87M210.61,33.18L210.61,37.80M209.30,35.49L210.61,35.49M210.61,33.18L213.09,33.18M210.61,35.49L216.55,35.49M210.61,37.80L214.07,37.80M211.70,42.70L211.70,55.90M215.45,42.70L215.45,46.00M211.70,44.35L215.45,44.35M215.45,42.70L219.05,42.70M215.45,46.00L217.18,46.00M211.70,49.30L214.46,49.30M214.03,52.60L214.03,55.90M211.70,54.25L214.03,54.25M214.03,52.60L215.80,52.60M214.03,55.90L219.83,55.90M212.50,57.50L212.50,64.50M212.50,57.50L214.92,57.50M216.38,61.00L216.38,64.50M212.50,62.75L216.38,62.75M216.38,61.00L218.13,61.00M216.38,64.50L218.13,64.50M211.50,65.80L211.50,75.00M215.38,65.80L215.38,68.87M211.50,67.33L215.38,67.33M215.38,65.80L217.78,65.80M215.38,68.87L218.11,68.87M213.05,71.93L213.05,75.00M211.50,73.47L213.05,73.47M213.05,71.93L218.81,71.93M213.05,75.00L215.00,75.00M197.50,80.00L197.50,100.00M199.40,80.00L199.40,85.00M197.50,82.50L199.40,82.50M199.40,80.00L203.69,80.00M199.40,82.50L201.84,82.50M199.40,85.00L201.68,85.00M197.50,87.50L204.50,87.50M200.26,90.00L200.26,95.00M197.50,92.50L200.26,92.50M200.26,90.00L206.96,90.00M200.26,92.50L208.38,92.50M200.26,95.00L202.00,95.00M200.96,97.50L200.96,100.00M197.50,98.75L200.96,98.75M200.96,97.50L206.06,97.50M200.96,100.00L204.46,100.00M198.10,103.00L198.10,160.40M200.28,103.00L200.28,107.25M198.10,105.13L200.28,105.13M200.28,103.00L203.03,103.00M200.28,105.13L203.89,105.13M200.28,107.25L214.80,107.25M199.99,109.38L199.99,115.76M198.10,112.57L199.99,112.57M199.99,109.38L205.58,109.38M199.99,111.50L207.76,111.50M199.99,113.63L205.78,113.63M199.99,115.76L205.19,115.76M198.10,117.88L207.64,117.88M199.55,120.01L199.55,126.39M198.10,123.20L199.55,123.20M199.55,120.01L215.07,120.01M199.55,122.13L202.58,122.13M199.55,124.26L211.15,124.26M199.55,126.39L214.55,126.39M199.96,128.51L199.96,132.76M198.10,130.64L199.96,130.64M199.96,128.51L204.87,128.51M199.96,130.64L207.36,130.64M199.96,132.76L211.65,132.76M198.10,134.89L209.54,134.89M201.25,137.01L201.25,139.14M198.10,138.08L201.25,138.08M201.25,137.01L202.88,137.01M201.25,139.14L215.01,139.14M198.10,141.27L204.69,141.27M200.63,143.39L200.63,147.64M198.10,145.52L200.63,145.52M200.63,143.39L214.44,143.39M200.63,145.52L205.19,145.52M200.63,147.64L214.55,147.64M199.33,149.77L199.33,154.02M198.10,151.90L199.33,151.90M199.33,149.77L209.78,149.77M199.33,151.90L203.72,151.90M199.33,154.02L211.91,154.02M199.47,156.15L199.47,160.40M198.10,158.27L199.47,158.27M199.47,156.15L209.90,156.15M199.47,158.27L215.93,158.27M199.47,160.40L202.14,160.40M197.00,150.00L197.00,182.00M197.00,150.00L201.50,150.00M199.60,152.46L199.60,157.38M197.00,154.92L199.60,154.92M199.60,152.46L204.75,152.46M199.60,154.92L202.82,154.92M199.60,157.38L207.32,157.38M199.37,159.85L199.37,162.31M197.00,161.08L199.37,161.08M199.37,159.85L204.79,159.85M199.37,162.31L201.10,162.31M198.10,164.77L198.10,172.15M197.00,168.46L198.10,168.46M198.10,164.77L204.96,164.77M198.10,167.23L210.85,167.23M198.10,169.69L200.43,169.69M198.10,172.15L208.90,172.15M199.89,174.62L199.89,177.08M197.00,175.85L199.89,175.85M199.89,174.62L210.42,174.62M199.89,177.08L201.94,177.08M199.12,179.54L199.12,182.00M197.00,180.77L199.12,180.77M199.12,179.54L200.87,179.54M199.12,182.00L204.60,182.00M244.30,196.00L244.30,227.10M246.66,196.00L246.66,198.42M244.30,197.21L246.66,197.21M246.66,196.00L256.99,196.00M246.66,198.42L255.23,198.42M246.66,200.83L246.66,205.67M244.30,203.25L246.66,203.25M246.66,200.83L251.40,200.83M246.66,203.25L253.84,203.25M246.66,205.67L251.32,205.67M246.71,208.08L246.71,210.50M244.30,209.29L246.71,209.29M246.71,208.08L255.82,208.08M246.71,210.50L248.62,210.50M248.18,212.92L248.18,217.75M244.30,215.33L248.18,215.33M248.18,212.92L253.49,212.92M248.18,215.33L252.45,215.33M248.18,217.75L251.29,217.75M244.30,220.17L252.18,220.17M247.65,222.58L247.65,225.00M244.30,223.79L247.65,223.79M247.65,222.58L255.58,222.58M247.65,225.00L251.03,225.00M246.60,228.50L246.60,238.00M249.68,228.50L249.68,231.67M246.60,230.08L249.68,230.08M249.68,228.50L253.90,228.50M249.68,231.67L254.46,231.67M249.28,234.83L249.28,238.00M246.60,236.42L249.28,236.42M249.28,234.83L253.75,234.83M249.28,238.00L254.84,238.00M248.20,239.00L248.20,245.60M251.51,239.00L251.51,245.60M248.20,242.30L251.51,242.30M251.51,239.00L253.36,239.00M251.51,245.60L253.12,245.60M240.50,248.70L240.50,262.60M243.45,248.70L243.45,251.48M240.50,250.09L243.45,250.09M243.45,248.70L245.44,248.70M243.45,251.48L244.95,251.48M243.82,254.26L243.82,259.82M240.50,257.04L243.82,257.04M243.82,254.26L245.46,254.26M243.82,257.04L245.43,257.04M243.82,259.82L245.44,259.82M240.50,262.60L244.70,262.60M233.00,265.50L233.00,276.00M235.04,265.50L235.04,269.00M233.00,267.25L235.04,267.25M235.04,265.50L238.95,265.50M235.04,269.00L239.46,269.00M235.05,272.50L235.05,276.00M233.00,274.25L235.05,274.25M235.05,272.50L240.05,272.50M235.05,276.00L240.21,276.00M234.00,277.00L234.00,283.00M236.35,277.00L236.35,283.00M234.00,280.00L236.35,280.00M236.35,277.00L238.62,277.00M236.35,283.00L238.53,283.00M246.00,284.50L246.00,297.50M248.59,284.50L248.59,287.75M246.00,286.12L248.59,286.12M248.59,284.50L250.36,284.50M248.59,287.75L252.67,287.75M247.85,291.00L247.85,297.50M246.00,294.25L247.85,294.25M247.85,291.00L249.46,291.00M247.85,294.25L251.67,294.25M247.85,297.50L250.54,297.50M226.80,300.80L226.80,316.20M230.14,300.80L230.14,306.96M226.80,303.88L230.14,303.88M230.14,300.80L235.55,300.80M230.14,303.88L236.37,303.88M230.14,306.96L234.13,306.96M229.46,310.04L229.46,316.20M226.80,313.12L229.46,313.12M229.46,310.04L238.36,310.04M229.46,313.12L232.41,313.12M229.46,316.20L239.95,316.20M210.50,324.00L210.50,344.00M211.98,324.00L211.98,326.50M210.50,325.25L211.98,325.25M211.98,324.00L214.92,324.00M211.98,326.50L215.95,326.50M213.78,329.00L213.78,331.50M210.50,330.25L213.78,330.25M213.78,329.00L215.52,329.00M213.78,331.50L216.99,331.50M214.44,334.00L214.44,339.00M210.50,336.50L214.44,336.50M214.44,334.00L216.11,334.00M214.44,336.50L217.69,336.50M214.44,339.00L216.03,339.00M212.95,341.50L212.95,344.00M210.50,342.75L212.95,342.75M212.95,341.50L215.98,341.50M212.95,344.00L215.49,344.00M196.00,345.00L196.00,355.00M198.14,345.00L198.14,348.33M196.00,346.67L198.14,346.67M198.14,345.00L202.59,345.00M198.14,348.33L202.44,348.33M199.15,351.67L199.15,355.00M196.00,353.33L199.15,353.33M199.15,351.67L201.88,351.67M199.15,355.00L201.77,355.00M174.70,357.70L174.70,386.70M178.27,357.70L178.27,360.12M174.70,358.91L178.27,358.91M178.27,357.70L184.87,357.70M178.27,360.12L183.47,360.12M176.82,362.53L176.82,367.37M174.70,364.95L176.82,364.95M176.82,362.53L178.39,362.53M176.82,364.95L182.20,364.95M176.82,367.37L178.61,367.37M177.24,369.78L177.24,374.62M174.70,372.20L177.24,372.20M177.24,369.78L185.51,369.78M177.24,372.20L180.04,372.20M177.24,374.62L180.42,374.62M176.96,377.03L176.96,379.45M174.70,378.24L176.96,378.24M176.96,377.03L184.10,377.03M176.96,379.45L182.52,379.45M177.10,381.87L177.10,384.28M174.70,383.07L177.10,383.07M177.10,381.87L179.16,381.87M177.10,384.28L180.53,384.28M174.70,386.70L185.50,386.70M178.80,388.60L178.80,414.00M181.63,388.60L181.63,391.14M178.80,389.87L181.63,389.87M181.63,388.60L184.71,388.60M181.63,391.14L189.00,391.14M178.80,393.68L183.57,393.68M181.50,396.22L181.50,398.76M178.80,397.49L181.50,397.49M181.50,396.22L186.54,396.22M181.50,398.76L183.45,398.76M182.43,401.30L182.43,408.92M178.80,405.11L182.43,405.11M182.43,401.30L186.65,401.30M182.43,403.84L185.79,403.84M182.43,406.38L189.80,406.38M182.43,408.92L186.19,408.92M182.72,411.46L182.72,414.00M178.80,412.73L182.72,412.73M182.72,411.46L185.71,411.46M182.72,414.00L189.69,414.00M176.40,414.00L176.40,431.00M179.19,414.00L179.19,416.83M176.40,415.42L179.19,415.42M179.19,414.00L181.49,414.00M179.19,416.83L185.86,416.83M178.15,419.67L178.15,425.33M176.40,422.50L178.15,422.50M178.15,419.67L179.68,419.67M178.15,422.50L185.52,422.50M178.15,425.33L180.87,425.33M177.83,428.17L177.83,431.00M176.40,429.58L177.83,429.58M177.83,428.17L179.37,428.17M177.83,431.00L183.06,431.00M180.90,434.50L180.90,467.00M182.64,434.50L182.64,439.50M180.90,437.00L182.64,437.00M182.64,434.50L184.20,434.50M182.64,437.00L184.50,437.00M182.64,439.50L185.72,439.50M183.50,442.00L183.50,447.00M180.90,444.50L183.50,444.50M183.50,442.00L185.81,442.00M183.50,444.50L189.55,444.50M183.50,447.00L188.54,447.00M183.37,449.50L183.37,452.00M180.90,450.75L183.37,450.75M183.37,449.50L188.92,449.50M183.37,452.00L188.12,452.00M182.78,454.50L182.78,457.00M180.90,455.75L182.78,455.75M182.78,454.50L187.13,454.50M182.78,457.00L186.29,457.00M184.49,459.50L184.49,467.00M180.90,463.25L184.49,463.25M184.49,459.50L189.35,459.50M184.49,462.00L189.42,462.00M184.49,464.50L186.00,464.50M184.49,467.00L186.21,467.00M190.00,498.20L216.00,498.20" stroke="rgba(8,14,20,0.92)" stroke-width="0.8" fill="none" stroke-linecap="square"/><path d="M185.50,189.40L185.50,191.40M190.00,193.60L205.00,193.60M201.00,468.50L201.00,474.00M204.50,470.00L204.50,473.00M202.00,481.50L202.00,486.50M205.00,483.00L205.00,486.00M200.00,488.50L200.00,493.00M203.50,490.00L203.50,492.50" stroke="rgba(8,14,20,0.92)" stroke-width="0.7" fill="none" stroke-linecap="square"/><path d="M174.50,191.90L213.20,191.90" stroke="rgba(8,14,20,0.92)" stroke-width="1.0" fill="none" stroke-linecap="square"/><path d="M198.60,185.90L224.20,185.90" stroke="rgba(0,0,0,0.35)" stroke-width="0.8" fill="none" stroke-linecap="square"/><path d="M154.70,433.50L237.60,433.50" stroke="rgba(0,20,20,0.5)" stroke-width="0.9" fill="none" stroke-linecap="square"/><path d="M192.60,479.70L283.50,479.70" stroke="rgba(0,20,20,0.55)" stroke-width="0.9" fill="none" stroke-linecap="square"/><path d="M212.00,18.10L228.60,18.10M212.00,20.30L223.00,20.30M212.00,22.30L245.50,22.30M212.00,23.80L231.00,23.80M208.50,40.30L221.50,40.30M214.00,45.00L224.80,45.00M214.00,58.50L230.90,58.50M204.00,103.00L220.00,103.00M204.00,116.40L215.00,116.40M204.00,122.30L229.70,122.30M205.00,123.20L229.00,123.20M204.00,128.00L224.00,128.00M204.00,146.50L222.00,146.50M202.00,151.40L283.00,151.40M206.00,152.20L245.00,152.20M204.00,156.30L220.70,156.30M205.00,156.00L221.00,156.00M206.00,166.40L229.80,166.40M206.00,170.00L216.00,170.00M250.00,197.00L262.00,197.00M250.00,200.50L261.00,200.50M250.00,203.00L258.00,203.00M250.00,206.00L259.00,206.00M250.00,211.00L258.00,211.00M250.00,223.00L260.50,223.00M252.00,228.50L264.40,228.50M252.00,230.50L263.00,230.50M232.00,303.00L244.00,303.00M232.00,311.00L241.00,311.00M214.00,330.50L221.00,330.50M214.00,333.00L222.00,333.00M199.00,346.00L206.00,346.00M178.00,378.40L202.60,378.40M178.00,382.30L199.00,382.30M177.00,386.00L189.00,386.00M178.00,363.00L188.00,363.00M182.00,389.50L196.00,389.50M182.00,392.50L197.00,392.50M180.00,425.00L195.70,425.00M184.00,437.00L194.00,437.00M184.00,440.00L193.00,440.00M184.00,444.00L191.00,444.00" stroke="rgba(0,0,0,0.5)" stroke-width="0.85" fill="none" stroke-linecap="square"/><path d="M197.70,468.00L197.70,476.50M198.40,481.00L198.40,487.00M196.20,488.00L196.20,494.50" stroke="rgba(10,30,35,0.75)" stroke-width="0.8" fill="none" stroke-linecap="square"/><path d="M200.30,468.00L200.30,469.06M197.70,468.53L200.30,468.53M200.30,468.00L206.30,468.00M200.30,469.06L205.58,469.06M198.78,470.12L198.78,472.25M197.70,471.19L198.78,471.19M198.78,470.12L205.39,470.12M198.78,471.19L213.28,471.19M198.78,472.25L216.90,472.25M198.81,473.31L198.81,474.38M197.70,473.84L198.81,473.84M198.81,473.31L203.54,473.31M198.81,474.38L207.69,474.38M197.70,475.44L219.99,475.44M197.70,476.50L207.04,476.50M201.74,481.00L201.74,483.40M198.40,482.20L201.74,482.20M201.74,481.00L209.56,481.00M201.74,482.20L212.82,482.20M201.74,483.40L216.04,483.40M201.35,484.60L201.35,487.00M198.40,485.80L201.35,485.80M201.35,484.60L219.94,484.60M201.35,485.80L219.45,485.80M201.35,487.00L210.32,487.00M199.76,488.00L199.76,491.90M196.20,489.95L199.76,489.95M199.76,488.00L203.38,488.00M199.76,489.30L205.04,489.30M199.76,490.60L217.24,490.60M199.76,491.90L201.72,491.90M196.20,493.20L215.21,493.20M196.20,494.50L212.91,494.50" stroke="rgba(10,30,35,0.75)" stroke-width="0.6" fill="none" stroke-linecap="square"/><path d="M208.00,469.50L221.80,469.50M208.00,472.00L222.00,472.00M204.00,482.00L226.00,482.00M204.00,485.00L225.00,485.00" stroke="rgba(10,30,35,0.75)" stroke-width="0.85" fill="none" stroke-linecap="square"/><path d="M206.24,467.50L219.67,467.50M204.55,468.65L215.99,468.65M206.48,469.80L224.66,469.80M207.86,470.95L220.46,470.95M205.13,472.10L220.50,472.10M203.24,473.25L222.79,473.25M204.34,474.40L215.02,474.40M203.31,475.55L225.31,475.55M204.67,476.70L219.15,476.70M203.34,477.85L218.86,477.85M205.43,479.00L215.48,479.00M203.61,480.15L221.37,480.15M207.12,481.30L215.33,481.30M207.47,482.45L225.93,482.45M206.53,483.60L219.26,483.60M203.92,484.75L216.22,484.75M207.01,485.90L214.81,485.90M204.07,487.05L220.67,487.05M206.30,488.20L222.95,488.20M204.40,489.35L220.85,489.35M203.59,490.50L218.78,490.50M206.12,491.65L214.12,491.65M203.46,492.80L222.23,492.80M205.45,493.95L218.24,493.95M206.28,495.10L224.98,495.10M203.69,496.25L217.54,496.25M205.84,497.40L222.14,497.40" stroke="rgba(15,45,45,0.45)" stroke-width="0.7" fill="none" stroke-linecap="square"/>
</svg>
</body></html>
